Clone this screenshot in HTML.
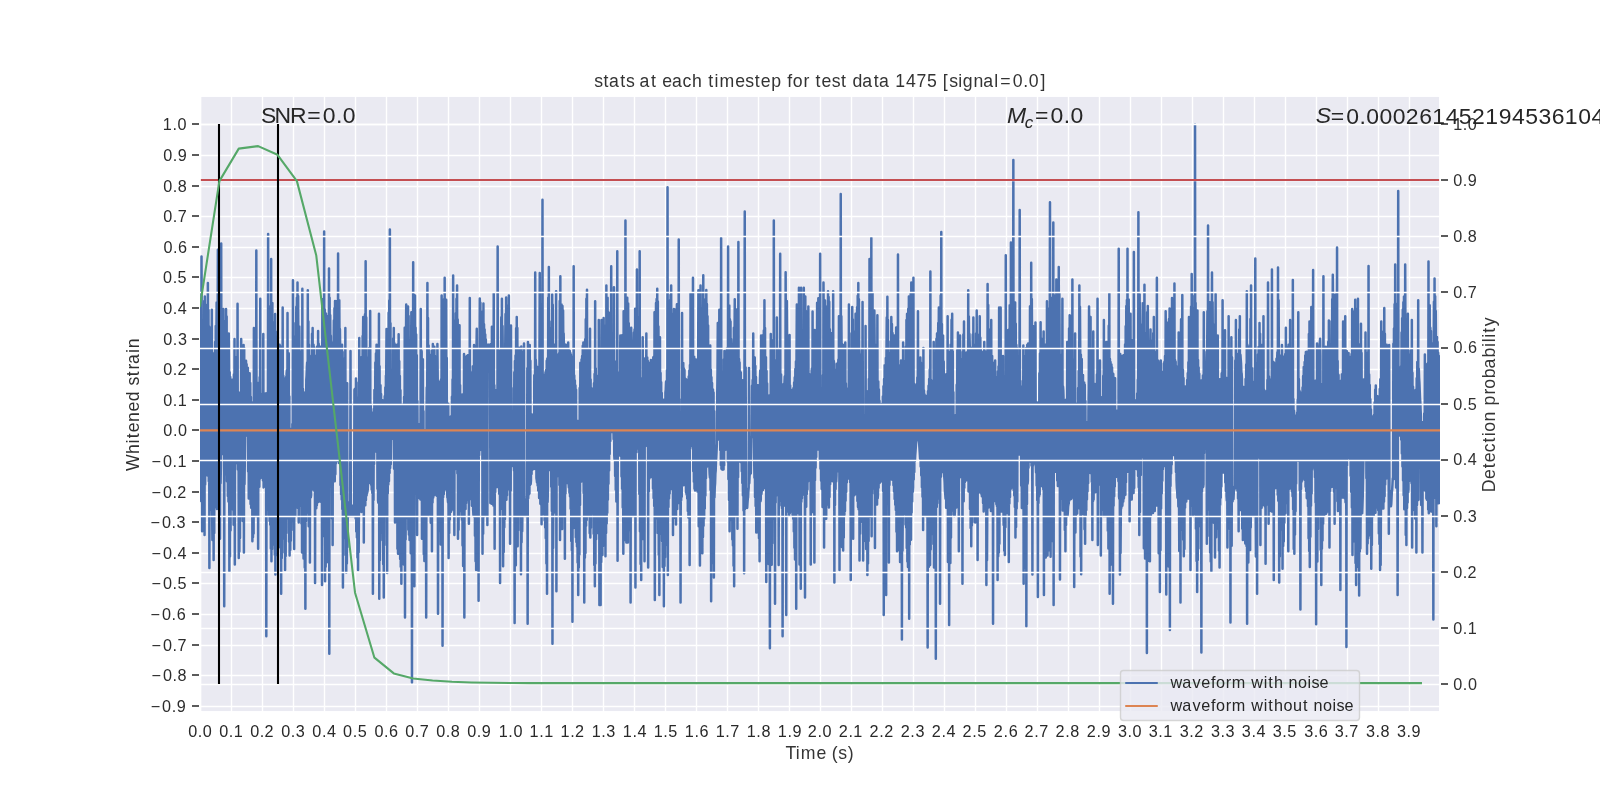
<!DOCTYPE html>
<html><head><meta charset="utf-8"><title>stats at each timestep for test data 1475</title>
<style>html,body{margin:0;padding:0;background:#fff;overflow:hidden}svg{display:block;will-change:transform}text{font-family:"Liberation Sans",sans-serif}</style>
</head><body><svg width="1600" height="800" viewBox="0 0 1600 800"><defs><clipPath id="ax"><rect x="200" y="96" width="1240" height="616"/></clipPath></defs><rect x="0" y="0" width="1600" height="800" fill="#fff"/><rect x="201.19" y="96.95" width="1237.86" height="614.10" fill="#eaeaf2"/><path d="M200 706.5H1440M200 675.5H1440M200 645.5H1440M200 614.5H1440M200 583.5H1440M200 553.5H1440M200 522.5H1440M200 492.5H1440M200 461.5H1440M200 430.5H1440M200 400.5H1440M200 369.5H1440M200 339.5H1440M200 308.5H1440M200 277.5H1440M200 247.5H1440M200 216.5H1440M200 186.5H1440M200 155.5H1440M200 124.5H1440M200.5 96V712M231.5 96V712M262.5 96V712M293.5 96V712M324.5 96V712M355.5 96V712M386.5 96V712M417.5 96V712M448.5 96V712M479.5 96V712M510.5 96V712M541.5 96V712M572.5 96V712M603.5 96V712M634.5 96V712M665.5 96V712M696.5 96V712M727.5 96V712M758.5 96V712M789.5 96V712M820.5 96V712M851.5 96V712M882.5 96V712M913.5 96V712M944.5 96V712M975.5 96V712M1006.5 96V712M1037.5 96V712M1068.5 96V712M1099.5 96V712M1130.5 96V712M1161.5 96V712M1192.5 96V712M1223.5 96V712M1254.5 96V712M1285.5 96V712M1316.5 96V712M1347.5 96V712M1378.5 96V712M1409.5 96V712" stroke="#fff" stroke-width="1.389" fill="none"/><g clip-path="url(#ax)"><path d="M200.00 497.7 200.30 304.1 200.61 496.7 200.91 335.5 201.21 501.1 201.51 256.6 201.82 359.4 202.12 531.2 202.42 355.0 202.73 512.9 203.03 353.9 203.33 510.3 203.63 355.3 203.94 505.9 204.24 300.9 204.54 535.0 204.84 296.6 205.15 484.4 205.45 304.8 205.75 474.7 206.06 323.0 206.36 474.1 206.66 329.5 206.96 475.0 207.27 314.4 207.57 475.5 207.87 283.0 208.18 473.8 208.48 310.1 208.78 481.2 209.08 326.5 209.39 568.0 209.69 341.8 209.99 500.2 210.30 348.6 210.60 505.1 210.90 344.7 211.20 327.6 211.51 509.7 211.81 309.7 212.11 511.0 212.42 540.1 212.72 353.6 213.02 534.3 213.32 360.1 213.63 560.0 213.93 353.7 214.23 533.1 214.53 352.8 214.84 506.5 215.14 342.1 215.44 506.8 215.75 326.0 216.05 498.1 216.35 345.8 216.65 302.5 216.96 509.1 217.26 332.7 217.56 355.9 217.87 249.7 218.17 351.3 218.47 323.2 218.77 332.0 219.08 300.5 219.38 534.7 219.68 314.6 219.99 538.8 220.29 336.3 220.59 483.2 220.89 465.9 221.20 243.4 221.50 452.6 221.80 452.9 222.11 350.5 222.41 453.9 222.71 327.9 223.01 452.5 223.32 309.0 223.62 452.8 223.92 321.0 224.22 606.2 224.53 328.2 224.83 472.4 225.13 347.6 225.44 473.6 225.74 473.4 226.04 309.0 226.34 474.2 226.65 316.6 226.95 481.3 227.25 360.3 227.56 349.7 227.86 496.0 228.16 358.6 228.46 501.6 228.77 333.4 229.07 366.7 229.37 571.2 229.68 372.3 229.98 556.5 230.28 377.0 230.58 530.6 230.89 380.3 231.19 508.3 231.49 381.3 231.79 507.3 232.10 379.7 232.40 507.4 232.70 381.1 233.01 509.7 233.31 379.7 233.61 524.8 233.91 374.4 234.22 504.3 234.52 339.0 234.82 564.5 235.13 363.3 235.43 461.2 235.73 358.5 236.03 462.8 236.34 357.0 236.64 363.6 236.94 372.1 237.25 463.5 237.55 303.8 237.85 469.5 238.15 392.1 238.46 392.2 238.76 558.0 239.06 394.2 239.37 551.5 239.67 394.5 239.97 538.0 240.27 392.7 240.58 509.5 240.88 513.5 241.18 339.0 241.48 512.9 241.79 372.6 242.09 516.1 242.39 362.0 242.70 520.9 243.00 355.3 243.30 506.3 243.60 345.0 243.91 552.5 244.21 348.3 244.51 484.2 244.82 459.9 245.12 436.0 245.42 435.9 245.72 435.8 246.03 360.7 246.33 435.5 246.63 364.2 246.94 435.6 247.24 370.0 247.54 435.9 247.84 367.8 248.15 471.5 248.45 375.5 248.75 498.5 249.05 373.3 249.36 498.2 249.66 373.3 249.96 498.0 250.27 383.1 250.57 504.1 250.87 397.0 251.17 507.7 251.48 402.2 251.78 503.2 252.08 403.0 252.39 541.2 252.69 404.6 252.99 537.3 253.29 404.3 253.60 533.4 253.90 328.0 254.20 516.1 254.51 381.5 254.81 516.1 255.11 369.6 255.41 516.1 255.72 370.1 256.02 516.1 256.32 250.6 256.63 512.7 256.93 382.8 257.23 509.1 257.53 382.7 257.84 383.8 258.14 548.8 258.44 384.7 258.74 385.8 259.05 385.0 259.35 486.8 259.65 377.2 259.96 478.7 260.26 298.8 260.56 477.9 260.86 393.7 261.17 476.7 261.47 403.9 261.77 477.5 262.08 404.7 262.38 474.3 262.68 404.0 262.98 480.6 263.29 334.0 263.59 487.4 263.89 486.6 264.20 397.7 264.50 485.3 264.80 394.9 265.10 395.6 265.41 393.4 265.71 393.5 266.01 393.4 266.32 636.2 266.62 395.7 266.92 497.4 267.22 394.0 267.53 504.7 267.83 501.7 268.13 234.0 268.43 509.4 268.74 364.6 269.04 515.3 269.34 354.3 269.65 521.0 269.95 318.3 270.25 524.7 270.55 306.2 270.86 548.6 271.16 259.0 271.46 561.2 271.77 335.0 272.07 549.0 272.37 303.0 272.67 544.6 272.98 329.4 273.28 330.3 273.58 535.0 273.89 329.9 274.19 541.0 274.49 322.3 274.79 554.7 275.10 314.0 275.40 574.5 275.70 331.5 276.00 545.6 276.31 344.2 276.61 555.1 276.91 346.7 277.22 548.3 277.52 507.1 277.82 336.7 278.12 518.6 278.43 354.4 278.73 526.3 279.03 352.7 279.34 531.9 279.64 344.7 279.94 547.3 280.24 346.3 280.55 535.0 280.85 350.6 281.15 593.8 281.46 353.0 281.76 558.0 282.06 355.0 282.36 552.5 282.67 307.5 282.97 538.5 283.27 375.7 283.58 380.4 283.88 516.1 284.18 516.1 284.48 537.7 284.79 378.9 285.09 570.0 285.39 379.1 285.69 556.0 286.00 377.3 286.30 533.1 286.60 373.7 286.91 370.2 287.21 516.1 287.51 313.0 287.81 503.6 288.12 353.6 288.42 518.2 288.72 353.3 289.03 541.7 289.33 396.4 289.63 555.5 289.93 428.8 290.24 550.0 290.54 428.8 290.84 540.8 291.15 428.9 291.45 530.1 291.75 428.9 292.05 517.3 292.36 424.0 292.66 510.5 292.96 280.3 293.26 493.7 293.57 338.4 293.87 500.4 294.17 549.0 294.48 355.6 294.78 492.6 295.08 336.5 295.38 516.1 295.69 322.9 295.99 493.1 296.29 306.8 296.60 506.3 296.90 297.8 297.20 501.9 297.50 282.5 297.81 507.9 298.11 296.1 298.41 354.7 298.72 522.5 299.02 350.1 299.32 326.5 299.62 360.0 299.93 353.9 300.23 352.9 300.53 351.4 300.84 505.7 301.14 352.6 301.44 523.4 301.74 363.5 302.05 552.5 302.35 288.7 302.65 534.6 302.95 388.9 303.26 523.0 303.56 558.4 303.86 394.0 304.17 544.8 304.47 393.2 304.77 567.4 305.07 392.4 305.38 608.8 305.68 392.3 305.98 520.9 306.29 380.2 306.59 375.8 306.89 367.1 307.19 362.4 307.50 511.9 307.80 290.3 308.10 512.6 308.41 321.4 308.71 526.3 309.01 344.7 309.31 505.6 309.62 357.1 309.92 562.5 310.22 364.9 310.53 497.2 310.83 497.4 311.13 495.1 311.43 355.8 311.74 489.8 312.04 333.8 312.34 489.4 312.64 328.0 312.95 488.2 313.25 488.9 313.55 344.7 313.86 486.0 314.16 347.2 314.46 491.1 314.76 355.4 315.07 583.0 315.37 359.1 315.67 500.8 315.98 357.2 316.28 508.2 316.58 357.4 316.88 505.2 317.19 346.5 317.49 498.5 317.79 500.2 318.10 331.0 318.40 502.0 318.70 343.8 319.00 495.6 319.31 347.1 319.61 495.4 319.91 348.0 320.21 496.0 320.52 346.7 320.82 501.7 321.12 353.6 321.43 501.3 321.73 348.6 322.03 585.0 322.33 299.2 322.64 511.7 322.94 330.4 323.24 535.9 323.55 324.4 323.85 520.6 324.15 231.6 324.45 516.1 324.76 309.4 325.06 581.2 325.36 316.3 325.67 566.8 325.97 313.5 326.27 556.4 326.57 319.7 326.88 562.2 327.18 336.2 327.48 559.8 327.79 316.0 328.09 543.0 328.39 340.7 328.69 533.2 329.00 268.4 329.30 653.8 329.60 297.7 329.90 354.9 330.21 315.3 330.51 361.0 330.81 335.7 331.12 362.0 331.42 356.0 331.72 369.0 332.02 518.4 332.33 357.5 332.63 545.0 332.93 353.0 333.24 342.2 333.54 355.3 333.84 320.5 334.14 364.5 334.45 308.2 334.75 481.3 335.05 301.0 335.36 474.3 335.66 321.7 335.96 463.6 336.26 330.0 336.57 459.6 336.87 301.0 337.17 459.4 337.47 321.9 337.78 460.8 338.08 253.4 338.38 461.3 338.69 305.1 338.99 463.1 339.29 300.2 339.59 352.8 339.90 328.9 340.20 349.4 340.50 484.9 340.81 344.7 341.11 494.3 341.41 353.9 341.71 499.4 342.02 344.7 342.32 508.9 342.62 352.1 342.93 587.5 343.23 358.6 343.53 360.2 343.83 504.0 344.14 367.7 344.44 375.5 344.74 376.3 345.05 538.0 345.35 328.0 345.65 554.9 345.95 386.8 346.26 572.5 346.56 383.2 346.86 563.5 347.16 383.3 347.47 547.0 347.77 513.6 348.07 507.2 348.38 511.4 348.68 516.1 348.98 509.2 349.28 509.6 349.59 502.3 349.89 513.4 350.19 516.0 350.50 351.0 350.80 510.3 351.10 508.8 351.40 516.1 351.71 516.1 352.01 510.3 352.31 514.0 352.62 505.7 352.92 515.8 353.22 516.1 353.52 516.1 353.83 508.7 354.13 516.1 354.43 390.0 354.74 389.1 355.04 514.4 355.34 390.5 355.64 518.6 355.95 378.4 356.25 531.4 356.55 382.6 356.85 537.5 357.16 397.4 357.46 557.5 357.76 401.0 358.07 570.0 358.37 402.4 358.67 552.3 358.97 506.7 359.28 338.0 359.58 507.1 359.88 402.9 360.19 507.5 360.49 389.2 360.79 507.4 361.09 371.6 361.40 512.1 361.70 357.0 362.00 504.1 362.31 505.8 362.61 336.0 362.91 351.8 363.21 317.1 363.52 348.5 363.82 542.5 364.12 344.7 364.42 339.3 364.73 356.9 365.03 314.3 365.33 505.3 365.64 261.2 365.94 499.9 366.24 317.4 366.54 495.6 366.85 492.1 367.15 493.1 367.45 491.5 367.76 489.3 368.06 483.0 368.36 357.6 368.66 482.7 368.97 348.3 369.27 479.6 369.57 365.5 369.88 482.7 370.18 311.0 370.48 482.3 370.78 404.6 371.09 484.8 371.39 413.2 371.69 489.5 372.00 412.6 372.30 492.9 372.60 412.4 372.90 593.8 373.21 413.1 373.51 500.0 373.81 409.0 374.11 464.0 374.42 390.1 374.72 451.6 375.02 451.5 375.33 362.5 375.63 451.6 375.93 353.5 376.23 450.8 376.54 344.7 376.84 450.4 377.14 352.6 377.45 488.7 377.75 344.7 378.05 500.6 378.35 502.8 378.66 498.5 378.96 313.8 379.26 598.8 379.57 366.3 379.87 560.3 380.17 513.4 380.47 385.2 380.78 494.3 381.08 394.0 381.38 511.2 381.68 400.0 381.99 532.2 382.29 400.1 382.59 540.2 382.90 403.0 383.20 564.3 383.50 400.9 383.80 597.5 384.11 402.3 384.41 545.1 384.71 396.3 385.02 516.1 385.32 387.5 385.62 508.9 385.92 375.7 386.23 375.0 386.53 329.0 386.83 361.7 387.14 573.0 387.44 351.0 387.74 493.5 388.04 339.8 388.35 484.6 388.65 312.8 388.95 481.2 389.26 300.4 389.56 473.1 389.86 229.4 390.16 468.1 390.47 323.3 390.77 464.3 391.07 440.4 391.37 438.6 391.68 438.7 391.98 438.6 392.28 438.2 392.59 438.6 392.89 438.2 393.19 338.5 393.49 438.4 393.80 328.0 394.10 468.8 394.40 343.3 394.71 356.1 395.01 522.5 395.31 344.7 395.61 505.4 395.92 362.0 396.22 511.6 396.52 347.3 396.83 499.2 397.13 344.7 397.43 548.7 397.73 511.8 398.04 553.8 398.34 515.2 398.64 334.2 398.95 531.6 399.25 361.3 399.55 543.7 399.85 376.1 400.16 559.0 400.46 390.2 400.76 566.7 401.06 404.8 401.37 583.8 401.67 406.4 401.97 558.6 402.28 406.0 402.58 550.1 402.88 405.0 403.18 555.1 403.49 404.2 403.79 564.4 404.09 396.9 404.40 561.6 404.70 327.8 405.00 617.5 405.30 362.9 405.61 539.5 405.91 352.6 406.21 304.4 406.52 347.9 406.82 319.0 407.12 353.9 407.42 330.7 407.73 517.9 408.03 306.6 408.33 529.7 408.63 315.9 408.94 534.8 409.24 344.0 409.54 540.0 409.85 348.1 410.15 524.2 410.45 360.0 410.75 553.3 411.06 361.1 411.36 312.2 411.66 351.6 411.97 682.5 412.27 355.8 412.57 545.1 412.87 498.2 413.18 262.2 413.48 501.2 413.78 294.9 414.09 357.8 414.39 586.2 414.69 356.0 414.99 295.5 415.30 476.6 415.60 327.8 415.90 474.9 416.21 334.5 416.51 473.3 416.81 355.2 417.11 535.0 417.42 400.9 417.72 498.2 418.02 424.5 418.32 495.5 418.63 424.0 418.93 496.1 419.23 424.3 419.54 424.5 419.84 498.4 420.14 424.3 420.44 499.4 420.75 309.0 421.05 496.0 421.35 350.3 421.66 351.8 421.96 538.8 422.26 366.6 422.56 508.6 422.87 359.3 423.17 508.6 423.47 411.2 423.78 554.2 424.08 430.0 424.38 561.0 424.68 430.0 424.99 545.5 425.29 430.0 425.59 523.5 425.89 430.0 426.20 617.5 426.50 412.2 426.80 387.4 427.11 496.3 427.41 283.1 427.71 502.3 428.01 317.9 428.32 514.9 428.62 345.6 428.92 364.3 429.23 499.1 429.53 506.7 429.83 366.5 430.13 506.6 430.44 362.5 430.74 522.7 431.04 354.7 431.35 509.9 431.65 350.6 431.95 551.2 432.25 350.4 432.56 502.4 432.86 344.0 433.16 497.7 433.47 492.8 433.77 358.3 434.07 495.3 434.37 346.8 434.68 490.0 434.98 356.1 435.28 491.4 435.58 367.8 435.89 494.2 436.19 356.8 436.49 495.6 436.80 366.8 437.10 495.9 437.40 344.0 437.70 377.8 438.01 613.8 438.31 384.1 438.61 511.6 438.92 509.9 439.22 382.1 439.52 521.8 439.82 381.6 440.13 530.8 440.43 381.7 440.73 544.5 441.04 379.5 441.34 526.3 441.64 295.6 441.94 506.5 442.25 359.7 442.55 645.8 442.85 353.8 443.16 497.2 443.46 328.7 443.76 494.3 444.06 299.3 444.37 487.0 444.67 277.8 444.97 488.8 445.27 304.6 445.58 306.5 445.88 488.0 446.18 299.7 446.49 490.4 446.79 358.1 447.09 491.8 447.39 497.8 447.70 497.6 448.00 502.1 448.30 403.7 448.61 558.0 448.91 417.0 449.21 532.9 449.51 416.8 449.82 519.4 450.12 417.2 450.42 504.7 450.73 417.2 451.03 511.7 451.33 416.1 451.63 509.2 451.94 396.7 452.24 506.3 452.54 379.5 452.84 502.1 453.15 275.6 453.45 507.7 453.75 510.3 454.06 344.1 454.36 535.0 454.66 340.5 454.96 468.0 455.27 320.4 455.57 469.0 455.87 313.3 456.18 468.3 456.48 298.7 456.78 469.3 457.08 285.6 457.39 473.6 457.69 319.4 457.99 538.8 458.30 361.3 458.60 529.8 458.90 355.1 459.20 517.2 459.51 325.3 459.81 506.2 460.11 385.3 460.42 495.7 460.72 394.3 461.02 394.4 461.32 510.9 461.63 394.9 461.93 519.8 462.23 395.2 462.53 545.5 462.84 394.4 463.14 565.9 463.44 394.1 463.75 541.9 464.05 354.0 464.35 617.5 464.65 365.9 464.96 501.0 465.26 361.3 465.56 509.0 465.87 356.9 466.17 502.9 466.47 359.6 466.77 356.1 467.08 499.9 467.38 358.7 467.68 491.7 467.99 355.3 468.29 490.6 468.59 362.1 468.89 523.8 469.20 371.2 469.50 495.8 469.80 298.0 470.11 495.4 470.41 375.3 470.71 498.9 471.01 376.6 471.32 498.2 471.62 373.1 471.92 505.7 472.22 372.3 472.53 500.7 472.83 366.2 473.13 509.7 473.44 515.2 473.74 510.9 474.04 345.0 474.34 516.8 474.65 356.3 474.95 535.7 475.25 351.7 475.56 561.3 475.86 349.4 476.16 570.0 476.46 350.4 476.77 328.8 477.07 502.8 477.37 534.9 477.68 355.5 477.98 557.5 478.28 355.1 478.58 600.8 478.89 349.6 479.19 455.0 479.49 360.3 479.79 298.4 480.10 354.0 480.40 302.7 480.70 449.7 481.01 317.1 481.31 449.7 481.61 323.0 481.91 450.5 482.22 316.0 482.52 553.8 482.82 311.5 483.13 533.7 483.43 303.4 483.73 516.1 484.03 324.2 484.34 505.4 484.64 329.4 484.94 516.1 485.25 334.5 485.55 504.7 485.85 339.4 486.15 514.7 486.46 344.7 486.76 506.8 487.06 350.9 487.37 525.0 487.67 344.7 487.97 344.7 488.27 346.2 488.58 344.7 488.88 344.7 489.18 344.7 489.48 352.0 489.79 348.3 490.09 344.7 490.39 503.1 490.70 351.6 491.00 501.9 491.30 343.9 491.60 503.7 491.91 326.7 492.21 502.3 492.51 355.1 492.82 502.9 493.12 358.8 493.42 505.4 493.72 293.4 494.03 504.6 494.33 385.2 494.63 548.8 494.94 391.2 495.24 492.2 495.54 390.1 495.84 390.9 496.15 487.2 496.45 393.4 496.75 486.0 497.05 390.7 497.36 485.8 497.66 246.6 497.96 487.0 498.27 375.2 498.57 487.0 498.87 360.7 499.17 493.8 499.48 352.2 499.78 350.5 500.08 583.0 500.39 350.5 500.69 504.9 500.99 361.6 501.29 317.3 501.60 508.8 501.90 298.8 502.20 499.4 502.51 325.9 502.81 354.6 503.11 566.2 503.41 359.6 503.72 552.0 504.02 366.9 504.32 527.2 504.63 360.0 504.93 518.9 505.23 349.9 505.53 313.9 505.84 499.0 506.14 297.5 506.44 499.7 506.74 329.9 507.05 495.2 507.35 335.3 507.65 489.0 507.96 357.4 508.26 305.6 508.56 489.3 508.86 295.6 509.17 486.9 509.47 365.6 509.77 372.3 510.08 543.8 510.38 383.5 510.68 490.8 510.98 325.6 511.29 465.2 511.59 387.9 511.89 464.3 512.20 464.1 512.50 465.9 512.80 466.0 513.10 464.8 513.41 462.8 513.71 464.0 514.01 470.7 514.32 372.3 514.62 623.0 514.92 360.9 515.22 563.9 515.53 355.5 515.83 565.3 516.13 328.2 516.43 534.8 516.74 316.9 517.04 541.1 517.34 328.0 517.65 546.2 517.95 349.8 518.25 530.2 518.55 351.0 518.86 513.0 519.16 347.7 519.46 516.1 519.77 506.4 520.07 509.9 520.37 493.6 520.67 356.3 520.98 574.2 521.28 346.6 521.58 542.3 521.89 352.0 522.19 531.2 522.49 506.0 522.79 506.4 523.10 506.7 523.40 508.0 523.70 514.6 524.00 343.4 524.31 496.9 524.61 499.6 524.91 516.1 525.22 515.5 525.52 504.4 525.82 505.9 526.12 512.3 526.43 510.0 526.73 510.4 527.03 508.2 527.34 368.3 527.64 623.8 527.94 342.0 528.24 498.3 528.55 354.1 528.85 494.4 529.15 349.7 529.46 493.5 529.76 344.9 530.06 485.1 530.36 360.8 530.67 484.2 530.97 480.4 531.27 414.3 531.58 474.1 531.88 415.0 532.18 469.9 532.48 414.8 532.79 467.2 533.09 414.9 533.39 467.0 533.69 415.5 534.00 468.9 534.30 375.3 534.60 466.5 534.91 467.2 535.21 272.5 535.51 468.7 535.81 359.7 536.12 366.8 536.42 478.1 536.72 479.9 537.03 482.6 537.33 366.9 537.63 485.5 537.93 367.6 538.24 490.6 538.54 366.9 538.84 369.5 539.15 498.0 539.45 368.1 539.75 273.1 540.05 358.5 540.36 503.7 540.66 355.4 540.96 504.6 541.26 353.7 541.57 524.3 541.87 363.3 542.17 514.6 542.48 199.7 542.78 511.3 543.08 374.8 543.38 377.1 543.69 375.5 543.99 503.2 544.29 376.0 544.60 520.3 544.90 374.7 545.20 527.5 545.50 372.3 545.81 538.2 546.11 370.1 546.41 563.6 546.72 360.7 547.02 593.8 547.32 358.6 547.62 502.0 547.93 486.9 548.23 297.7 548.53 469.5 548.84 266.9 549.14 466.4 549.44 466.1 549.74 351.1 550.05 470.0 550.35 346.3 550.65 466.6 550.95 328.0 551.26 486.8 551.56 321.5 551.86 511.1 552.17 294.4 552.47 643.8 552.77 304.8 553.07 548.0 553.38 500.6 553.68 358.1 553.98 512.8 554.29 344.7 554.59 500.7 554.89 353.6 555.19 495.8 555.50 356.2 555.80 484.2 556.10 291.2 556.41 591.2 556.71 354.8 557.01 474.3 557.31 354.5 557.62 472.4 557.92 356.8 558.22 473.4 558.53 359.9 558.83 476.6 559.13 353.2 559.43 485.1 559.74 301.1 560.04 540.0 560.34 276.2 560.64 504.8 560.95 311.3 561.25 335.5 561.55 304.4 561.86 330.3 562.16 528.9 562.46 306.0 562.76 516.1 563.07 310.5 563.37 349.2 563.67 333.5 563.98 352.3 564.28 502.7 564.58 344.7 564.88 558.8 565.19 344.7 565.49 493.5 565.79 344.7 566.10 482.1 566.40 348.6 566.70 483.0 567.00 344.7 567.31 482.1 567.61 344.7 567.91 483.0 568.21 342.5 568.52 482.2 568.82 487.4 569.12 350.3 569.43 492.8 569.73 350.8 570.03 496.6 570.33 353.0 570.64 508.8 570.94 354.7 571.24 541.1 571.55 360.2 571.85 550.2 572.15 357.3 572.45 621.8 572.76 358.2 573.06 528.5 573.36 503.3 573.67 266.2 573.97 515.2 574.27 375.5 574.57 516.4 574.88 380.5 575.18 527.8 575.48 385.5 575.79 537.2 576.09 389.7 576.39 542.0 576.69 421.0 577.00 546.4 577.30 421.3 577.60 562.6 577.90 421.1 578.21 595.0 578.51 421.2 578.81 567.6 579.12 421.2 579.42 554.6 579.72 388.0 580.02 504.9 580.33 362.8 580.63 482.1 580.93 371.3 581.24 480.8 581.54 359.5 581.84 479.3 582.14 356.0 582.45 481.3 582.75 345.7 583.05 480.8 583.36 342.5 583.66 493.0 583.96 357.8 584.26 602.5 584.57 350.8 584.87 557.7 585.17 339.2 585.47 552.9 585.78 319.2 586.08 525.7 586.38 298.8 586.69 520.1 586.99 289.7 587.29 514.3 587.59 353.5 587.90 502.0 588.20 361.4 588.50 516.1 588.81 349.3 589.11 507.0 589.41 358.9 589.71 533.3 590.02 328.8 590.32 537.5 590.62 379.4 590.93 527.7 591.23 390.4 591.53 389.5 591.83 388.4 592.14 391.8 592.44 391.1 592.74 391.0 593.05 513.4 593.35 392.1 593.65 533.8 593.95 383.2 594.26 564.9 594.56 373.9 594.86 586.2 595.16 301.2 595.47 563.4 595.77 368.6 596.07 539.2 596.38 375.8 596.68 502.5 596.98 377.0 597.28 516.1 597.59 377.2 597.89 516.1 598.19 533.1 598.50 516.1 598.80 320.0 599.10 373.5 599.40 605.0 599.71 363.1 600.01 566.3 600.31 360.8 600.62 605.0 600.92 351.2 601.22 561.9 601.52 320.0 601.83 539.8 602.13 337.0 602.43 554.9 602.74 344.7 603.04 545.9 603.34 504.9 603.64 318.0 603.95 516.1 604.25 325.4 604.55 350.3 604.85 531.8 605.16 355.9 605.46 556.2 605.76 360.9 606.07 533.0 606.37 285.6 606.67 523.5 606.97 329.3 607.28 512.7 607.58 297.7 607.88 499.7 608.19 312.2 608.49 483.7 608.79 320.0 609.09 470.5 609.40 313.1 609.70 454.1 610.00 335.3 610.31 440.9 610.61 319.1 610.91 431.9 611.21 266.2 611.52 431.9 611.82 355.7 612.12 378.2 612.42 431.9 612.73 420.9 613.03 431.8 613.33 421.6 613.64 439.3 613.94 287.2 614.24 455.1 614.54 459.6 614.85 421.1 615.15 476.0 615.45 408.7 615.76 489.8 616.06 361.5 616.36 501.6 616.66 368.4 616.97 484.1 617.27 251.2 617.57 560.8 617.88 373.8 618.18 453.7 618.48 372.5 618.78 455.3 619.09 374.9 619.39 455.0 619.69 372.7 620.00 455.6 620.30 335.6 620.60 455.9 620.90 358.7 621.21 359.6 621.51 476.5 621.81 354.3 622.11 488.7 622.42 335.0 622.72 507.6 623.02 335.4 623.33 553.8 623.63 311.2 623.93 540.5 624.23 314.8 624.54 515.7 624.84 327.9 625.14 525.2 625.45 220.6 625.75 535.6 626.05 302.1 626.35 542.5 626.66 310.9 626.96 523.9 627.26 297.8 627.57 509.3 627.87 542.6 628.17 303.4 628.47 515.0 628.78 323.3 629.08 516.1 629.38 348.2 629.68 505.1 629.99 530.0 630.29 354.7 630.59 602.5 630.90 353.0 631.20 327.8 631.50 504.6 631.80 344.9 632.11 512.5 632.41 508.1 632.71 505.7 633.02 516.1 633.32 348.5 633.62 345.0 633.92 332.6 634.23 508.3 634.53 329.5 634.83 510.0 635.14 308.8 635.44 587.5 635.74 328.8 636.04 452.5 636.35 335.6 636.65 448.6 636.95 269.4 637.26 448.1 637.56 316.9 637.86 348.1 638.16 447.3 638.47 357.8 638.77 452.6 639.07 364.0 639.37 493.9 639.68 251.2 639.98 531.6 640.28 382.7 640.59 564.1 640.89 378.3 641.19 580.0 641.49 380.5 641.80 522.8 642.10 379.9 642.40 539.0 642.71 337.2 643.01 515.9 643.31 527.7 643.61 366.4 643.92 510.3 644.22 361.7 644.52 561.2 644.83 358.5 645.13 445.2 645.43 376.9 645.73 445.9 646.04 445.0 646.34 333.4 646.64 444.6 646.95 444.5 647.25 357.5 647.55 445.6 647.85 360.9 648.16 567.5 648.46 363.8 648.76 491.4 649.06 362.8 649.37 478.4 649.67 364.5 649.97 474.6 650.28 363.7 650.58 473.9 650.88 360.0 651.18 476.9 651.49 362.0 651.79 474.0 652.09 361.4 652.40 475.9 652.70 361.6 653.00 488.5 653.30 357.3 653.61 498.1 653.91 356.8 654.21 505.9 654.52 312.2 654.82 600.0 655.12 338.9 655.42 533.3 655.73 344.9 656.03 302.9 656.33 511.5 656.63 298.9 656.94 514.9 657.24 288.7 657.54 518.3 657.85 301.4 658.15 533.3 658.45 326.5 658.75 554.8 659.06 353.3 659.36 595.0 659.66 359.4 659.97 337.2 660.27 501.8 660.57 373.1 660.87 516.1 661.18 382.3 661.48 533.8 661.78 393.1 662.09 541.0 662.39 401.3 662.69 567.1 662.99 402.1 663.30 565.1 663.60 399.7 663.90 606.2 664.21 401.3 664.51 566.1 664.81 401.6 665.11 557.3 665.42 392.4 665.72 390.0 666.02 381.9 666.32 381.1 666.63 521.0 666.93 370.4 667.23 544.8 667.54 187.2 667.84 575.0 668.14 349.2 668.44 507.0 668.75 345.3 669.05 498.4 669.35 304.6 669.66 493.5 669.96 300.2 670.26 487.2 670.56 295.0 670.87 489.0 671.17 285.6 671.47 487.0 671.78 313.8 672.08 348.1 672.38 323.7 672.68 360.1 672.99 535.0 673.29 344.7 673.59 494.5 673.89 309.0 674.20 503.3 674.50 348.5 674.80 346.4 675.11 339.4 675.41 518.3 675.71 315.4 676.01 524.5 676.32 309.1 676.62 320.0 676.92 304.3 677.23 509.0 677.53 329.2 677.83 500.7 678.13 340.2 678.44 493.7 678.74 239.4 679.04 503.1 679.35 399.2 679.65 502.1 679.95 430.0 680.25 430.0 680.56 602.5 680.86 430.0 681.16 500.2 681.47 430.0 681.77 496.7 682.07 313.1 682.37 485.7 682.68 395.7 682.98 484.8 683.28 363.0 683.58 482.1 683.89 368.5 684.19 484.9 684.49 370.0 684.80 481.1 685.10 378.4 685.40 484.5 685.70 383.2 686.01 492.6 686.31 379.6 686.61 494.5 686.92 380.5 687.22 498.4 687.52 381.7 687.82 511.0 688.13 382.0 688.43 517.6 688.73 376.5 689.04 507.7 689.34 370.5 689.64 565.0 689.94 364.9 690.25 448.8 690.55 293.4 690.85 444.9 691.16 353.4 691.46 445.4 691.76 352.6 692.06 446.0 692.37 350.3 692.67 444.8 692.97 277.8 693.27 471.2 693.58 356.8 693.88 481.8 694.18 356.8 694.49 488.7 694.79 359.2 695.09 490.4 695.39 359.3 695.70 488.8 696.00 363.2 696.30 489.0 696.61 360.0 696.91 489.6 697.21 365.0 697.51 491.4 697.82 362.3 698.12 362.0 698.42 290.3 698.73 526.2 699.03 350.3 699.33 348.8 699.63 504.7 699.94 565.5 700.24 346.6 700.54 285.6 700.84 326.9 701.15 549.1 701.45 320.6 701.75 537.2 702.06 314.9 702.36 553.2 702.66 308.2 702.96 537.0 703.27 275.3 703.57 525.8 703.87 305.2 704.18 518.6 704.48 308.7 704.78 508.6 705.08 304.2 705.39 495.5 705.69 299.2 705.99 478.3 706.30 290.0 706.60 467.2 706.90 303.9 707.20 464.9 707.51 316.2 707.81 466.1 708.11 325.6 708.42 465.9 708.72 465.2 709.02 465.4 709.32 465.3 709.63 474.1 709.93 477.7 710.23 345.6 710.53 489.9 710.84 369.7 711.14 601.2 711.44 377.2 711.75 563.1 712.05 382.9 712.35 535.7 712.65 538.7 712.96 389.5 713.26 562.2 713.56 392.6 713.87 577.5 714.17 411.2 714.47 497.4 714.77 486.8 715.08 483.6 715.38 474.0 715.68 470.7 715.99 461.4 716.29 457.2 716.59 450.5 716.89 443.5 717.20 397.8 717.50 373.0 717.80 323.1 718.11 360.0 718.41 439.1 718.71 352.4 719.01 439.6 719.32 309.7 719.62 439.8 719.92 317.5 720.22 450.1 720.53 350.9 720.83 464.9 721.13 238.1 721.44 468.8 721.74 467.3 722.04 468.8 722.34 469.6 722.65 468.6 722.95 467.0 723.25 469.0 723.56 469.5 723.86 359.5 724.16 465.2 724.46 351.0 724.77 449.1 725.07 355.8 725.37 449.8 725.68 353.3 725.98 449.3 726.28 357.1 726.58 448.9 726.89 348.5 727.19 449.4 727.49 351.1 727.79 461.7 728.10 246.6 728.40 479.3 728.70 333.3 729.01 500.0 729.31 305.6 729.61 531.2 729.91 319.2 730.22 517.5 730.52 321.6 730.82 508.3 731.13 339.1 731.43 345.7 731.73 520.1 732.03 363.5 732.34 539.6 732.64 361.5 732.94 545.4 733.25 344.2 733.55 565.8 733.85 327.8 734.15 586.2 734.46 351.1 734.76 299.2 735.06 362.4 735.37 345.5 735.67 505.0 735.97 355.8 736.27 516.1 736.58 337.8 736.88 505.3 737.18 309.3 737.48 528.8 737.79 340.0 738.09 477.3 738.39 241.9 738.70 460.9 739.00 359.0 739.30 461.3 739.60 362.4 739.91 461.4 740.21 371.5 740.51 461.8 740.82 372.5 741.12 462.5 741.42 380.1 741.72 471.3 742.03 381.5 742.33 483.1 742.63 380.9 742.94 495.6 743.24 381.9 743.54 510.4 743.84 380.0 744.15 573.2 744.45 380.7 744.75 211.6 745.05 509.0 745.36 498.7 745.66 367.5 745.96 496.4 746.27 492.7 746.57 488.7 746.87 495.4 747.17 507.9 747.48 502.9 747.78 498.8 748.08 497.2 748.39 490.8 748.69 487.6 748.99 368.0 749.29 483.1 749.60 475.2 749.90 474.7 750.20 469.9 750.51 472.5 750.81 473.4 751.11 452.8 751.41 436.9 751.72 436.4 752.02 385.8 752.32 436.5 752.63 380.0 752.93 436.9 753.23 333.4 753.53 436.6 753.84 358.2 754.14 455.7 754.44 477.7 754.74 357.6 755.05 497.1 755.35 366.0 755.65 506.0 755.96 377.0 756.26 532.5 756.56 385.0 756.86 388.3 757.17 385.7 757.47 386.8 757.77 387.4 758.08 385.2 758.38 532.7 758.68 386.0 758.98 538.3 759.29 386.1 759.59 561.2 759.89 379.6 760.20 370.5 760.50 501.3 760.80 499.5 761.10 335.6 761.41 494.2 761.71 490.9 762.01 354.8 762.32 484.8 762.62 343.3 762.92 489.9 763.22 334.9 763.53 487.6 763.83 330.4 764.13 486.6 764.43 300.3 764.74 486.2 765.04 327.9 765.34 488.3 765.65 356.9 765.95 357.3 766.25 582.0 766.55 371.0 766.86 507.8 767.16 383.4 767.46 552.5 767.77 395.8 768.07 544.4 768.37 396.7 768.67 564.1 768.98 397.6 769.28 551.3 769.58 395.3 769.89 648.2 770.19 395.7 770.49 533.2 770.79 334.0 771.10 523.0 771.40 375.1 771.70 564.8 772.00 357.1 772.31 543.3 772.61 355.2 772.91 518.5 773.22 340.0 773.52 514.4 773.82 220.6 774.12 507.9 774.43 508.9 774.73 361.1 775.03 603.8 775.34 360.5 775.64 502.6 775.94 360.3 776.24 495.7 776.55 493.5 776.85 317.5 777.15 490.8 777.46 492.6 777.76 364.5 778.06 487.2 778.36 349.6 778.67 565.0 778.97 354.4 779.27 487.7 779.58 490.3 779.88 495.0 780.18 253.8 780.48 499.1 780.79 500.7 781.09 374.4 781.39 505.4 781.69 384.4 782.00 508.3 782.30 385.8 782.60 636.2 782.91 384.4 783.21 504.4 783.51 384.9 783.81 505.7 784.12 386.6 784.42 383.9 784.72 376.8 785.03 376.0 785.33 495.2 785.63 272.2 785.93 356.3 786.24 615.0 786.54 371.4 786.84 300.9 787.15 348.6 787.45 511.4 787.75 496.6 788.05 362.1 788.36 496.0 788.66 367.4 788.96 371.5 789.26 515.1 789.57 335.0 789.87 512.9 790.17 385.4 790.48 505.9 790.78 392.7 791.08 511.5 791.38 392.8 791.69 510.4 791.99 390.1 792.29 507.9 792.60 515.1 792.90 392.4 793.20 518.7 793.50 388.1 793.81 531.6 794.11 382.5 794.41 547.8 794.72 377.6 795.02 559.4 795.32 369.0 795.62 548.0 795.93 361.4 796.23 608.8 796.53 353.3 796.84 304.4 797.14 510.9 797.44 502.8 797.74 351.6 798.05 501.6 798.35 361.7 798.65 513.2 798.95 287.8 799.26 375.8 799.56 564.5 799.86 376.1 800.17 513.0 800.47 381.0 800.77 588.8 801.07 287.8 801.38 501.8 801.68 379.7 801.98 498.3 802.29 379.0 802.59 491.0 802.89 374.0 803.19 492.8 803.50 365.7 803.80 287.8 804.10 354.6 804.41 495.1 804.71 324.4 805.01 597.5 805.31 296.6 805.62 500.9 805.92 311.0 806.22 506.7 806.53 351.3 806.83 494.0 807.13 360.9 807.43 489.6 807.74 361.6 808.04 481.6 808.34 306.6 808.64 479.2 808.95 377.5 809.25 376.2 809.55 377.2 809.86 374.4 810.16 480.5 810.46 374.5 810.76 564.5 811.07 376.3 811.37 491.3 811.67 370.7 811.98 368.5 812.28 499.2 812.58 311.6 812.88 508.0 813.19 512.3 813.49 355.0 813.79 502.8 814.10 342.2 814.40 562.5 814.70 330.0 815.00 480.2 815.31 350.4 815.61 467.8 815.91 340.0 816.21 456.9 816.52 332.9 816.82 449.5 817.12 302.8 817.43 449.0 817.73 328.3 818.03 449.6 818.33 298.3 818.64 448.6 818.94 362.8 819.24 448.7 819.55 399.8 819.85 459.3 820.15 253.8 820.45 468.8 820.76 411.3 821.06 480.7 821.36 410.8 821.67 489.1 821.97 411.8 822.27 411.8 822.57 507.1 822.88 375.2 823.18 507.2 823.48 282.5 823.79 335.2 824.09 547.6 824.39 318.1 824.69 505.5 825.00 300.6 825.30 511.7 825.60 327.3 825.90 356.5 826.21 518.8 826.51 345.5 826.81 321.7 827.12 356.7 827.42 306.3 827.72 496.6 828.02 291.2 828.33 504.5 828.63 297.1 828.93 507.4 829.24 301.8 829.54 496.9 829.84 329.3 830.14 484.3 830.45 361.0 830.75 479.0 831.05 367.3 831.36 347.3 831.66 480.9 831.96 333.1 832.26 478.6 832.57 350.2 832.87 481.3 833.17 291.2 833.47 481.3 833.78 360.8 834.08 363.7 834.38 582.5 834.69 369.8 834.99 505.1 835.29 371.7 835.59 488.9 835.90 370.2 836.20 481.5 836.50 475.6 836.81 363.8 837.11 370.8 837.41 469.2 837.71 369.3 838.02 471.2 838.32 359.7 838.62 468.4 838.93 316.2 839.23 364.4 839.53 570.0 839.83 346.7 840.14 483.8 840.44 490.3 840.74 194.0 841.05 504.9 841.35 316.3 841.65 354.0 841.95 546.9 842.26 348.6 842.56 534.9 842.86 344.7 843.16 550.4 843.47 350.6 843.77 537.5 844.07 359.9 844.38 515.0 844.68 361.8 844.98 511.1 845.28 342.5 845.59 500.7 845.89 383.5 846.19 492.1 846.50 388.6 846.80 482.5 847.10 388.9 847.40 475.0 847.71 391.3 848.01 478.6 848.31 391.2 848.62 475.0 848.92 304.4 849.22 477.8 849.52 478.1 849.83 375.1 850.13 482.2 850.43 365.3 850.74 580.0 851.04 350.6 851.34 502.4 851.64 333.2 851.95 506.9 852.25 306.9 852.55 501.9 852.85 319.5 853.16 538.8 853.46 344.7 853.76 495.2 854.07 344.7 854.37 495.3 854.67 344.7 854.97 331.4 855.28 493.5 855.58 313.8 855.88 492.1 856.19 490.5 856.49 337.1 856.79 494.4 857.09 307.3 857.40 500.9 857.70 295.7 858.00 506.9 858.31 283.1 858.61 509.3 858.91 299.2 859.21 360.1 859.52 560.5 859.82 354.4 860.12 533.7 860.42 361.9 860.73 522.0 861.03 356.9 861.33 511.6 861.64 359.5 861.94 349.2 862.24 501.8 862.54 301.9 862.85 398.2 863.15 560.5 863.45 415.3 863.76 541.3 864.06 415.9 864.36 520.9 864.66 416.1 864.97 415.5 865.27 514.4 865.57 326.0 865.88 509.7 866.18 549.1 866.48 391.0 866.78 543.1 867.09 394.0 867.39 575.0 867.69 392.5 868.00 563.6 868.30 393.4 868.60 541.0 868.90 379.1 869.21 517.1 869.51 259.0 869.81 499.6 870.11 356.8 870.42 505.5 870.72 311.4 871.02 496.8 871.33 237.8 871.63 536.2 871.93 330.1 872.23 493.5 872.54 292.8 872.84 488.0 873.14 322.5 873.45 488.6 873.75 323.6 874.05 488.6 874.35 310.6 874.66 344.7 874.96 548.0 875.26 356.1 875.57 498.1 875.87 344.7 876.17 504.0 876.47 353.7 876.78 356.8 877.08 504.6 877.38 315.3 877.68 498.3 877.99 494.5 878.29 381.4 878.59 487.7 878.90 389.5 879.20 483.3 879.50 400.7 879.80 482.7 880.11 404.3 880.41 478.7 880.71 404.3 881.02 480.9 881.32 404.7 881.62 404.7 881.92 479.5 882.23 403.7 882.53 482.1 882.83 396.6 883.14 491.0 883.44 386.3 883.74 615.0 884.04 378.9 884.35 501.6 884.65 365.3 884.95 500.9 885.26 368.0 885.56 504.9 885.86 358.1 886.16 595.0 886.47 354.8 886.77 317.4 887.07 504.1 887.37 296.7 887.68 498.3 887.98 320.0 888.28 497.1 888.59 341.4 888.89 562.5 889.19 353.0 889.49 485.0 889.80 357.9 890.10 477.6 890.40 362.5 890.71 476.5 891.01 479.3 891.31 316.9 891.61 476.9 891.92 323.9 892.22 479.8 892.52 332.9 892.83 480.1 893.13 350.6 893.43 485.3 893.73 353.4 894.04 491.6 894.34 335.6 894.64 499.0 894.95 352.7 895.25 504.7 895.55 339.1 895.85 510.1 896.16 327.5 896.46 531.7 896.76 349.8 897.06 551.2 897.37 354.5 897.67 525.3 897.97 254.4 898.28 535.6 898.58 367.2 898.88 544.4 899.18 370.7 899.49 550.4 899.79 365.4 900.09 561.9 900.40 365.2 900.70 559.2 901.00 360.6 901.30 525.0 901.61 366.7 901.91 639.5 902.21 360.9 902.52 550.8 902.82 503.4 903.12 342.5 903.42 494.9 903.73 513.7 904.03 501.7 904.33 498.6 904.63 504.5 904.94 506.7 905.24 361.0 905.54 524.4 905.85 346.7 906.15 527.6 906.45 320.0 906.75 548.0 907.06 313.8 907.36 561.5 907.66 314.1 907.97 567.1 908.27 308.7 908.57 545.4 908.87 296.6 909.18 618.8 909.48 313.7 909.78 544.5 910.09 316.9 910.39 522.4 910.69 293.5 910.99 539.7 911.30 282.5 911.60 512.4 911.90 349.2 912.21 501.4 912.51 353.6 912.81 491.6 913.11 486.9 913.42 277.8 913.72 479.6 914.02 383.7 914.32 472.1 914.63 385.2 914.93 461.0 915.23 455.2 915.54 450.9 915.84 446.6 916.14 442.4 916.44 439.5 916.75 384.1 917.05 439.0 917.35 377.4 917.66 439.9 917.96 311.3 918.26 439.0 918.56 439.2 918.87 439.1 919.17 443.3 919.47 448.5 919.78 453.2 920.08 458.7 920.38 357.5 920.68 466.5 920.99 362.7 921.29 475.5 921.59 366.3 921.89 487.3 922.20 370.6 922.50 496.8 922.80 375.3 923.11 530.0 923.41 348.0 923.71 512.4 924.01 390.5 924.32 498.6 924.62 394.4 924.92 506.2 925.23 396.2 925.53 516.1 925.83 397.3 926.13 497.3 926.44 396.1 926.74 506.0 927.04 508.3 927.35 395.6 927.65 647.5 927.95 391.2 928.25 565.8 928.56 385.7 928.86 566.7 929.16 379.0 929.47 562.2 929.77 369.4 930.07 565.0 930.37 271.6 930.68 549.6 930.98 380.0 931.28 534.0 931.58 383.8 931.89 511.0 932.19 381.0 932.49 503.7 932.80 519.0 933.10 380.7 933.40 544.0 933.70 341.9 934.01 567.4 934.31 376.2 934.61 549.7 934.92 366.8 935.22 523.2 935.52 353.1 935.82 658.8 936.13 360.8 936.43 338.7 936.73 506.9 937.04 333.4 937.34 498.5 937.64 332.9 937.94 357.0 938.25 322.9 938.55 362.9 938.85 307.5 939.16 358.0 939.46 503.2 939.76 356.6 940.06 603.8 940.37 350.2 940.67 295.4 940.97 476.7 941.27 231.9 941.58 471.9 941.88 323.9 942.18 469.8 942.49 350.4 942.79 471.9 943.09 335.6 943.39 471.6 943.70 361.6 944.00 471.8 944.30 477.3 944.61 481.7 944.91 491.4 945.21 493.5 945.51 498.8 945.82 374.8 946.12 507.8 946.42 374.1 946.73 503.2 947.03 379.2 947.33 508.3 947.63 316.2 947.94 562.1 948.24 366.9 948.54 533.5 948.84 356.0 949.15 625.0 949.45 351.9 949.75 561.8 950.06 362.0 950.36 563.1 950.66 344.7 950.96 537.7 951.27 365.5 951.57 319.7 951.87 498.7 952.18 313.8 952.48 500.9 952.78 351.4 953.08 510.6 953.39 392.3 953.69 514.8 953.99 501.8 954.30 505.0 954.60 516.1 954.90 511.8 955.20 502.0 955.51 499.0 955.81 415.1 956.11 507.1 956.42 507.5 956.72 384.7 957.02 505.6 957.32 349.9 957.63 495.2 957.93 332.5 958.23 490.1 958.53 354.8 958.84 551.2 959.14 358.2 959.44 475.8 959.75 473.8 960.05 335.6 960.35 475.7 960.65 477.0 960.96 364.8 961.26 472.9 961.56 371.5 961.87 477.8 962.17 359.0 962.47 583.8 962.77 352.1 963.08 500.1 963.38 334.5 963.68 501.3 963.99 321.6 964.29 487.8 964.59 364.3 964.89 481.9 965.20 355.1 965.50 478.3 965.80 363.0 966.11 478.1 966.41 352.6 966.71 480.3 967.01 357.4 967.32 476.2 967.62 354.5 967.92 480.4 968.22 290.3 968.53 491.4 968.83 316.5 969.13 353.4 969.44 333.9 969.74 345.0 970.04 508.9 970.34 348.1 970.65 528.1 970.95 357.5 971.25 546.2 971.56 354.0 971.86 525.6 972.16 347.5 972.46 522.2 972.77 334.5 973.07 515.1 973.37 317.5 973.68 512.7 973.98 344.7 974.28 351.8 974.58 352.1 974.89 353.2 975.19 522.4 975.49 347.9 975.79 505.5 976.10 333.4 976.40 509.5 976.70 310.6 977.01 502.5 977.31 334.6 977.61 560.0 977.91 349.9 978.22 488.7 978.52 339.5 978.82 489.5 979.13 335.4 979.43 492.2 979.73 316.2 980.03 491.6 980.34 337.7 980.64 492.7 980.94 350.1 981.25 493.8 981.55 359.9 981.85 496.2 982.15 364.7 982.46 488.4 982.76 362.7 983.06 503.0 983.37 351.7 983.67 511.4 983.97 501.4 984.27 341.9 984.58 502.2 984.88 351.2 985.18 500.4 985.48 351.6 985.79 508.3 986.09 367.3 986.39 585.0 986.70 357.6 987.00 560.2 987.30 506.9 987.60 284.0 987.91 498.2 988.21 304.9 988.51 507.4 988.82 336.2 989.12 500.4 989.42 344.7 989.72 493.2 990.03 343.5 990.33 507.0 990.63 329.2 990.94 511.0 991.24 320.0 991.54 509.0 991.84 502.5 992.15 355.9 992.45 498.1 992.75 362.4 993.05 623.8 993.36 367.0 993.66 499.2 993.96 373.4 994.27 501.0 994.57 378.5 994.87 499.5 995.17 360.6 995.48 501.1 995.78 499.7 996.08 379.8 996.39 504.2 996.69 377.1 996.99 506.2 997.29 379.1 997.60 580.0 997.90 371.5 998.20 556.2 998.51 366.4 998.81 552.4 999.11 307.5 999.41 543.8 999.72 358.0 1000.02 354.5 1000.32 510.6 1000.63 307.5 1000.93 500.5 1001.23 496.8 1001.53 511.5 1001.84 501.9 1002.14 497.4 1002.44 510.3 1002.74 502.5 1003.05 356.0 1003.35 501.3 1003.65 525.1 1003.96 380.5 1004.26 550.8 1004.56 381.2 1004.86 555.0 1005.17 376.3 1005.47 527.3 1005.77 255.3 1006.08 503.9 1006.38 360.0 1006.68 502.7 1006.98 354.5 1007.29 513.1 1007.59 341.2 1007.89 502.9 1008.20 330.0 1008.50 354.9 1008.80 562.0 1009.10 334.2 1009.41 503.6 1009.71 305.2 1010.01 496.9 1010.32 308.5 1010.62 489.3 1010.92 242.5 1011.22 488.0 1011.53 329.8 1011.83 487.0 1012.13 294.7 1012.43 485.1 1012.74 333.6 1013.04 486.5 1013.34 160.0 1013.65 490.0 1013.95 323.2 1014.25 495.4 1014.55 312.6 1014.86 507.0 1015.16 302.6 1015.46 537.5 1015.77 323.7 1016.07 527.0 1016.37 345.0 1016.67 508.5 1016.98 348.3 1017.28 501.6 1017.58 358.3 1017.89 356.6 1018.19 362.1 1018.49 367.9 1018.79 372.7 1019.10 376.6 1019.40 454.6 1019.70 210.0 1020.00 453.8 1020.31 387.9 1020.61 454.2 1020.91 386.6 1021.22 485.7 1021.52 390.2 1021.82 508.0 1022.12 387.3 1022.43 504.0 1022.73 381.0 1023.03 507.9 1023.34 345.6 1023.64 583.8 1023.94 360.9 1024.24 511.1 1024.55 355.9 1024.85 547.1 1025.15 567.5 1025.46 357.7 1025.76 522.7 1026.06 348.3 1026.36 626.2 1026.67 352.9 1026.97 504.0 1027.27 344.7 1027.58 483.9 1027.88 480.7 1028.18 343.4 1028.48 467.7 1028.79 356.8 1029.09 461.0 1029.39 355.1 1029.69 459.8 1030.00 306.2 1030.30 459.8 1030.60 337.9 1030.91 461.9 1031.21 262.8 1031.51 465.6 1031.81 299.1 1032.12 347.0 1032.42 574.5 1032.72 345.1 1033.03 465.7 1033.33 326.2 1033.63 462.0 1033.93 343.9 1034.24 463.6 1034.54 350.4 1034.84 327.5 1035.15 462.2 1035.45 322.5 1035.75 462.8 1036.05 472.5 1036.36 402.3 1036.66 485.5 1036.96 403.7 1037.26 500.2 1037.57 402.8 1037.87 597.0 1038.17 404.4 1038.48 503.1 1038.78 402.4 1039.08 496.4 1039.38 373.2 1039.69 494.4 1039.99 353.6 1040.29 482.9 1040.60 322.2 1040.90 482.0 1041.20 338.4 1041.50 481.9 1041.81 347.5 1042.11 486.2 1042.41 344.7 1042.72 485.9 1043.02 352.8 1043.32 489.5 1043.62 331.6 1043.93 595.0 1044.23 353.6 1044.53 499.6 1044.84 351.6 1045.14 510.4 1045.44 344.7 1045.74 557.6 1046.05 359.8 1046.35 546.6 1046.65 505.3 1046.95 301.2 1047.26 357.3 1047.56 555.5 1047.86 355.1 1048.17 550.7 1048.47 358.0 1048.77 308.4 1049.07 344.7 1049.38 330.7 1049.68 367.6 1049.98 202.2 1050.29 346.9 1050.59 556.7 1050.89 334.4 1051.19 541.4 1051.50 314.3 1051.80 513.0 1052.10 297.8 1052.41 500.5 1052.71 325.3 1053.01 489.5 1053.31 222.5 1053.62 605.0 1053.92 295.3 1054.22 468.4 1054.53 327.6 1054.83 470.9 1055.13 295.9 1055.43 471.8 1055.74 310.5 1056.04 470.5 1056.34 279.4 1056.64 471.1 1056.95 327.3 1057.25 480.4 1057.55 312.3 1057.86 486.0 1058.16 300.3 1058.46 485.9 1058.76 266.9 1059.07 485.3 1059.37 293.4 1059.67 360.7 1059.98 579.5 1060.28 358.0 1060.58 492.7 1060.88 366.0 1061.19 498.7 1061.49 355.5 1061.79 354.7 1062.10 497.1 1062.40 298.8 1062.70 510.4 1063.00 386.6 1063.31 390.5 1063.61 400.9 1063.91 402.0 1064.21 400.1 1064.52 401.3 1064.82 530.1 1065.12 401.0 1065.43 551.2 1065.73 401.7 1066.03 525.1 1066.33 399.5 1066.64 514.6 1066.94 512.6 1067.24 341.9 1067.55 516.1 1067.85 512.1 1068.15 506.6 1068.45 504.5 1068.76 503.5 1069.06 328.4 1069.36 500.4 1069.67 315.3 1069.97 494.6 1070.27 334.1 1070.57 498.0 1070.88 340.8 1071.18 499.1 1071.48 496.8 1071.79 316.1 1072.09 497.6 1072.39 279.4 1072.69 495.1 1073.00 359.4 1073.30 371.7 1073.60 380.6 1073.90 385.9 1074.21 587.0 1074.51 404.5 1074.81 512.8 1075.12 333.4 1075.42 532.6 1075.72 409.7 1076.02 514.9 1076.33 409.8 1076.63 504.0 1076.93 409.5 1077.24 513.6 1077.54 403.5 1077.84 499.5 1078.14 387.9 1078.45 501.8 1078.75 370.9 1079.05 507.6 1079.36 285.6 1079.66 508.5 1079.96 306.8 1080.26 353.2 1080.57 556.5 1080.87 354.8 1081.17 574.2 1081.47 361.1 1081.78 359.0 1082.08 513.8 1082.38 500.3 1082.69 513.7 1082.99 375.0 1083.29 506.8 1083.59 382.4 1083.90 509.1 1084.20 382.6 1084.50 529.2 1084.81 384.8 1085.11 543.8 1085.41 401.1 1085.71 516.0 1086.02 422.1 1086.32 510.0 1086.62 422.5 1086.93 499.5 1087.23 422.4 1087.53 491.5 1087.83 422.1 1088.14 483.3 1088.44 411.1 1088.74 389.1 1089.05 306.6 1089.35 350.5 1089.65 472.8 1089.95 472.9 1090.26 472.3 1090.56 317.0 1090.86 470.9 1091.16 470.0 1091.47 348.8 1091.77 481.7 1092.07 360.4 1092.38 540.0 1092.68 366.5 1092.98 501.3 1093.28 331.6 1093.59 499.5 1093.89 386.3 1094.19 491.5 1094.50 383.7 1094.80 488.6 1095.10 387.4 1095.40 492.3 1095.71 385.4 1096.01 487.4 1096.31 384.9 1096.62 487.1 1096.92 374.4 1097.22 488.1 1097.52 298.8 1097.83 545.0 1098.13 364.7 1098.43 480.5 1098.74 378.0 1099.04 484.6 1099.34 391.8 1099.64 484.5 1099.95 360.6 1100.25 483.1 1100.55 398.0 1100.85 555.5 1101.16 398.2 1101.46 495.0 1101.76 397.7 1102.07 500.6 1102.37 396.9 1102.67 509.7 1102.97 505.2 1103.28 375.7 1103.58 516.1 1103.88 320.0 1104.19 516.1 1104.49 348.7 1104.79 512.3 1105.09 515.0 1105.40 513.1 1105.70 347.2 1106.00 516.1 1106.31 341.9 1106.61 505.1 1106.91 346.8 1107.21 516.1 1107.52 349.4 1107.82 530.8 1108.12 341.7 1108.42 548.5 1108.73 325.8 1109.03 544.2 1109.33 293.4 1109.64 593.8 1109.94 358.9 1110.24 554.6 1110.54 361.9 1110.85 564.4 1111.15 556.5 1111.45 364.5 1111.76 555.5 1112.06 367.6 1112.36 533.5 1112.66 373.3 1112.97 603.8 1113.27 374.1 1113.57 505.7 1113.88 377.7 1114.18 496.2 1114.48 379.1 1114.78 486.4 1115.09 378.2 1115.39 477.2 1115.69 411.2 1116.00 477.0 1116.30 411.4 1116.60 473.8 1116.90 410.7 1117.21 475.0 1117.51 410.6 1117.81 476.5 1118.11 410.8 1118.42 481.3 1118.72 248.8 1119.02 496.7 1119.33 498.9 1119.63 362.1 1119.93 574.5 1120.23 354.0 1120.54 552.9 1120.84 509.5 1121.14 508.5 1121.45 506.6 1121.75 504.3 1122.05 356.0 1122.35 505.7 1122.66 499.4 1122.96 362.0 1123.26 501.4 1123.57 355.3 1123.87 498.6 1124.17 494.8 1124.47 492.1 1124.78 491.1 1125.08 344.4 1125.38 494.7 1125.68 326.3 1125.99 482.3 1126.29 306.0 1126.59 471.8 1126.90 299.9 1127.20 471.5 1127.50 248.8 1127.80 471.1 1128.11 314.3 1128.41 471.8 1128.71 299.6 1129.02 471.9 1129.32 317.2 1129.62 521.2 1129.92 330.2 1130.23 488.6 1130.53 313.8 1130.83 499.6 1131.14 498.0 1131.44 339.9 1131.74 499.4 1132.04 353.3 1132.35 491.8 1132.65 360.8 1132.95 491.6 1133.26 374.2 1133.56 492.9 1133.86 251.9 1134.16 488.0 1134.47 402.9 1134.77 402.6 1135.07 466.8 1135.37 400.4 1135.68 468.0 1135.98 403.0 1136.28 468.7 1136.59 401.4 1136.89 466.9 1137.19 393.4 1137.49 469.7 1137.80 379.8 1138.10 476.0 1138.40 212.2 1138.71 487.2 1139.01 350.4 1139.31 535.0 1139.61 294.3 1139.92 511.9 1140.22 302.9 1140.52 351.1 1140.83 475.0 1141.13 346.6 1141.43 457.5 1141.73 344.7 1142.04 336.5 1142.34 357.6 1142.64 324.5 1142.95 344.7 1143.25 302.9 1143.55 357.8 1143.85 548.2 1144.16 352.8 1144.46 284.7 1144.76 504.7 1145.06 558.6 1145.37 352.5 1145.67 538.4 1145.97 336.2 1146.28 546.8 1146.58 332.9 1146.88 653.0 1147.18 312.2 1147.49 547.4 1147.79 306.0 1148.09 548.3 1148.40 355.3 1148.70 557.7 1149.00 354.4 1149.30 561.0 1149.61 356.1 1149.91 561.2 1150.21 350.2 1150.52 329.4 1150.82 516.1 1151.12 505.6 1151.42 356.0 1151.73 345.8 1152.03 347.2 1152.33 506.3 1152.63 340.6 1152.94 512.9 1153.24 333.2 1153.54 501.5 1153.85 317.0 1154.15 510.7 1154.45 352.1 1154.75 510.9 1155.06 356.7 1155.36 503.2 1155.66 356.4 1155.97 500.9 1156.27 359.2 1156.57 505.4 1156.87 277.8 1157.18 500.3 1157.48 367.0 1157.78 364.1 1158.09 360.5 1158.39 362.8 1158.69 553.2 1158.99 364.7 1159.30 522.1 1159.60 362.5 1159.90 592.0 1160.21 371.0 1160.51 550.2 1160.81 360.6 1161.11 508.6 1161.42 371.8 1161.72 493.5 1162.02 376.8 1162.32 480.7 1162.63 372.2 1162.93 469.3 1163.23 373.7 1163.54 466.4 1163.84 363.5 1164.14 465.7 1164.44 361.8 1164.75 464.2 1165.05 355.9 1165.35 464.3 1165.66 311.3 1165.96 348.3 1166.26 594.5 1166.56 346.7 1166.87 487.5 1167.17 347.3 1167.47 499.8 1167.78 322.5 1168.08 508.8 1168.38 341.0 1168.68 566.5 1168.99 319.0 1169.29 506.7 1169.59 308.4 1169.89 630.0 1170.20 314.9 1170.50 486.0 1170.80 332.2 1171.11 473.5 1171.41 311.6 1171.71 464.5 1172.01 298.0 1172.32 455.0 1172.62 350.4 1172.92 452.6 1173.23 350.6 1173.53 454.9 1173.83 357.7 1174.13 453.2 1174.44 283.4 1174.74 454.1 1175.04 360.0 1175.35 460.4 1175.65 361.7 1175.95 471.9 1176.25 366.2 1176.56 480.5 1176.86 488.1 1177.16 490.5 1177.47 497.7 1177.77 496.0 1178.07 485.5 1178.37 506.6 1178.68 332.5 1178.98 493.9 1179.28 551.1 1179.58 356.7 1179.89 525.4 1180.19 362.3 1180.49 602.5 1180.80 351.5 1181.10 319.3 1181.40 353.0 1181.70 352.4 1182.01 510.2 1182.31 295.0 1182.61 529.7 1182.92 369.7 1183.22 539.7 1183.52 377.9 1183.82 556.2 1184.13 390.2 1184.43 549.1 1184.73 388.1 1185.04 507.8 1185.34 386.5 1185.64 500.7 1185.94 389.3 1186.25 501.6 1186.55 387.4 1186.85 494.2 1187.16 380.0 1187.46 497.6 1187.76 373.2 1188.06 498.5 1188.37 362.3 1188.67 493.1 1188.97 317.0 1189.27 498.0 1189.58 342.2 1189.88 499.2 1190.18 345.7 1190.49 570.0 1190.79 355.8 1191.09 306.7 1191.39 501.7 1191.70 274.0 1192.00 505.5 1192.30 295.8 1192.61 503.7 1192.91 307.9 1193.21 516.1 1193.51 333.5 1193.82 511.6 1194.12 338.0 1194.42 330.8 1194.73 509.1 1195.03 124.7 1195.33 513.7 1195.63 303.1 1195.94 528.8 1196.24 323.4 1196.54 560.9 1196.84 333.7 1197.15 592.0 1197.45 310.6 1197.75 560.0 1198.06 360.0 1198.36 548.5 1198.66 367.4 1198.96 526.6 1199.27 373.8 1199.57 511.0 1199.87 380.6 1200.18 503.9 1200.48 382.4 1200.78 500.1 1201.08 383.8 1201.39 652.5 1201.69 380.2 1201.99 491.8 1202.30 382.5 1202.60 487.5 1202.90 375.6 1203.20 486.9 1203.51 484.2 1203.81 312.2 1204.11 453.1 1204.42 351.9 1204.72 365.3 1205.02 447.6 1205.32 369.2 1205.63 448.4 1205.93 365.4 1206.23 447.3 1206.53 371.5 1206.84 543.8 1207.14 358.8 1207.44 311.2 1207.75 494.8 1208.05 225.6 1208.35 500.5 1208.65 314.2 1208.96 509.6 1209.26 327.0 1209.56 535.9 1209.87 302.3 1210.17 552.4 1210.47 332.7 1210.77 561.5 1211.08 348.2 1211.38 571.2 1211.68 352.9 1211.99 272.5 1212.29 504.8 1212.59 302.2 1212.89 354.2 1213.20 326.7 1213.50 352.9 1213.80 522.7 1214.11 352.7 1214.41 324.5 1214.71 344.7 1215.01 557.5 1215.32 362.3 1215.62 294.0 1215.92 504.2 1216.22 537.2 1216.53 502.8 1216.83 523.1 1217.13 355.1 1217.44 516.1 1217.74 335.6 1218.04 511.9 1218.34 528.4 1218.65 380.9 1218.95 550.6 1219.25 380.8 1219.56 567.5 1219.86 379.2 1220.16 504.8 1220.46 380.5 1220.77 497.8 1221.07 380.4 1221.37 486.4 1221.68 373.9 1221.98 372.8 1222.28 470.0 1222.58 300.3 1222.89 470.9 1223.19 351.4 1223.49 472.4 1223.79 357.4 1224.10 470.9 1224.40 360.4 1224.70 472.4 1225.01 330.3 1225.31 482.5 1225.61 380.3 1225.91 490.9 1226.22 377.7 1226.52 496.0 1226.82 500.4 1227.13 379.8 1227.43 547.5 1227.73 380.3 1228.03 504.2 1228.34 504.2 1228.64 316.2 1228.94 494.3 1229.25 509.0 1229.55 366.0 1229.85 528.9 1230.15 355.6 1230.46 622.5 1230.76 349.5 1231.06 535.5 1231.37 337.2 1231.67 545.7 1231.97 357.2 1232.27 498.4 1232.58 501.3 1232.88 498.1 1233.18 493.3 1233.48 499.2 1233.79 492.5 1234.09 489.2 1234.39 489.9 1234.70 486.4 1235.00 488.3 1235.30 360.5 1235.60 486.6 1235.91 320.0 1236.21 488.0 1236.51 361.7 1236.82 486.3 1237.12 354.6 1237.42 490.8 1237.72 364.1 1238.03 498.6 1238.33 353.8 1238.63 531.2 1238.94 362.2 1239.24 329.6 1239.54 504.8 1239.84 316.2 1240.15 509.9 1240.45 354.8 1240.75 359.3 1241.05 363.6 1241.36 372.4 1241.66 373.5 1241.96 379.0 1242.27 528.7 1242.57 387.4 1242.87 540.0 1243.17 386.7 1243.48 515.4 1243.78 388.2 1244.08 507.6 1244.39 387.3 1244.69 531.8 1244.99 387.0 1245.29 543.5 1245.60 378.9 1245.90 530.4 1246.20 364.6 1246.51 546.0 1246.81 291.2 1247.11 623.8 1247.41 344.7 1247.72 521.0 1248.02 354.6 1248.32 562.4 1248.63 509.3 1248.93 506.1 1249.23 356.5 1249.53 509.3 1249.84 346.3 1250.14 550.0 1250.44 319.0 1250.74 527.6 1251.05 285.6 1251.35 511.9 1251.65 508.1 1251.96 508.9 1252.26 368.2 1252.56 504.2 1252.86 381.7 1253.17 516.1 1253.47 383.1 1253.77 504.8 1254.08 384.1 1254.38 510.1 1254.68 385.6 1254.98 508.4 1255.29 258.4 1255.59 504.6 1255.89 556.5 1256.20 376.8 1256.50 494.6 1256.80 368.6 1257.10 593.8 1257.41 363.2 1257.71 457.0 1258.01 354.5 1258.32 456.4 1258.62 347.1 1258.92 455.2 1259.22 457.0 1259.53 323.1 1259.83 458.3 1260.13 333.7 1260.43 545.0 1260.74 344.7 1261.04 506.1 1261.34 344.7 1261.65 507.8 1261.95 348.6 1262.25 353.9 1262.55 359.1 1262.86 365.9 1263.16 505.0 1263.46 316.2 1263.77 504.5 1264.07 389.7 1264.37 501.3 1264.67 393.9 1264.98 506.7 1265.28 391.2 1265.58 563.8 1265.89 393.0 1266.19 392.5 1266.49 504.5 1266.79 390.9 1267.10 501.4 1267.40 380.0 1267.70 504.6 1268.00 282.5 1268.31 369.6 1268.61 523.8 1268.91 376.4 1269.22 381.2 1269.52 380.6 1269.82 501.0 1270.12 381.5 1270.43 510.8 1270.73 381.5 1271.03 503.2 1271.34 379.5 1271.64 511.5 1271.94 269.4 1272.24 507.5 1272.55 371.2 1272.85 367.9 1273.15 501.4 1273.46 362.1 1273.76 580.0 1274.06 362.9 1274.36 486.6 1274.67 363.3 1274.97 488.2 1275.27 363.5 1275.58 488.1 1275.88 367.4 1276.18 486.4 1276.48 358.7 1276.79 363.0 1277.09 361.0 1277.39 352.2 1277.69 494.7 1278.00 267.5 1278.30 500.8 1278.60 300.2 1278.91 363.6 1279.21 582.5 1279.51 360.8 1279.81 556.4 1280.12 357.3 1280.42 529.6 1280.72 365.1 1281.03 512.1 1281.33 355.3 1281.63 516.1 1281.93 345.0 1282.24 360.4 1282.54 568.8 1282.84 362.6 1283.15 546.1 1283.45 369.3 1283.75 541.5 1284.05 356.6 1284.36 522.8 1284.66 357.3 1284.96 507.1 1285.26 354.1 1285.57 513.2 1285.87 327.8 1286.17 503.1 1286.48 354.4 1286.78 350.5 1287.08 503.1 1287.38 353.0 1287.69 495.7 1287.99 347.3 1288.29 551.2 1288.60 344.7 1288.90 485.2 1289.20 350.6 1289.50 488.8 1289.81 486.0 1290.11 320.0 1290.41 486.5 1290.72 486.6 1291.02 348.3 1291.32 483.4 1291.62 364.6 1291.93 491.6 1292.23 376.1 1292.53 496.3 1292.84 280.0 1293.14 509.3 1293.44 399.0 1293.74 549.1 1294.05 410.7 1294.35 553.8 1294.65 415.5 1294.95 534.7 1295.26 416.3 1295.56 511.2 1295.86 415.5 1296.17 483.5 1296.47 416.5 1296.77 459.1 1297.07 412.8 1297.38 460.0 1297.68 399.8 1297.98 459.2 1298.29 312.2 1298.59 460.8 1298.89 378.9 1299.19 458.3 1299.50 390.7 1299.80 490.3 1300.10 392.2 1300.41 609.5 1300.71 393.0 1301.01 489.0 1301.31 393.9 1301.62 481.8 1301.92 392.7 1302.22 480.6 1302.53 387.4 1302.83 478.2 1303.13 375.9 1303.43 477.4 1303.74 366.9 1304.04 478.6 1304.34 477.7 1304.64 362.0 1304.95 480.1 1305.25 355.6 1305.55 486.7 1305.86 351.9 1306.16 491.1 1306.46 351.7 1306.76 498.0 1307.07 361.6 1307.37 498.8 1307.67 355.5 1307.98 506.3 1308.28 351.6 1308.58 538.3 1308.88 334.1 1309.19 551.1 1309.49 321.6 1309.79 567.0 1310.10 331.5 1310.40 536.8 1310.70 323.7 1311.00 505.8 1311.31 306.9 1311.61 493.6 1311.91 355.5 1312.21 469.8 1312.52 357.1 1312.82 467.1 1313.12 270.0 1313.43 467.5 1313.73 467.2 1314.03 381.3 1314.33 467.6 1314.64 382.8 1314.94 477.2 1315.24 380.7 1315.55 502.6 1315.85 380.5 1316.15 624.2 1316.45 382.2 1316.76 547.8 1317.06 343.4 1317.36 561.6 1317.67 364.4 1317.97 529.0 1318.27 357.7 1318.57 515.0 1318.88 351.6 1319.18 511.1 1319.48 347.2 1319.79 343.1 1320.09 338.8 1320.39 355.9 1320.69 549.7 1321.00 383.9 1321.30 585.0 1321.60 420.6 1321.90 548.7 1322.21 421.4 1322.51 540.4 1322.81 420.9 1323.12 523.7 1323.42 276.2 1323.72 510.3 1324.02 421.4 1324.33 514.9 1324.63 376.2 1324.93 509.9 1325.24 355.5 1325.54 510.0 1325.84 346.7 1326.14 513.7 1326.45 512.5 1326.75 507.1 1327.05 495.1 1327.36 494.7 1327.66 506.8 1327.96 511.3 1328.26 341.7 1328.57 511.5 1328.87 320.6 1329.17 360.5 1329.47 547.5 1329.78 344.7 1330.08 491.3 1330.38 352.7 1330.69 486.5 1330.99 347.7 1331.29 487.0 1331.59 321.3 1331.90 484.6 1332.20 299.2 1332.50 330.0 1332.81 274.7 1333.11 319.8 1333.41 486.9 1333.71 310.3 1334.02 491.7 1334.32 295.0 1334.62 523.8 1334.93 327.5 1335.23 308.2 1335.53 343.4 1335.83 294.2 1336.14 481.1 1336.44 302.0 1336.74 488.1 1337.05 247.5 1337.35 501.3 1337.65 360.9 1337.95 511.0 1338.26 374.5 1338.56 375.3 1338.86 496.8 1339.16 383.7 1339.47 503.2 1339.77 503.5 1340.07 383.3 1340.38 590.0 1340.68 381.1 1340.98 497.4 1341.28 380.4 1341.59 491.9 1341.89 374.3 1342.19 497.3 1342.50 491.8 1342.80 497.5 1343.10 321.6 1343.40 497.1 1343.71 495.7 1344.01 345.5 1344.31 494.7 1344.62 332.3 1344.92 498.4 1345.22 316.2 1345.52 502.2 1345.83 495.6 1346.13 358.6 1346.43 647.0 1346.74 350.9 1347.04 465.5 1347.34 357.7 1347.64 456.7 1347.95 353.3 1348.25 456.5 1348.55 352.9 1348.85 458.2 1349.16 360.0 1349.46 456.4 1349.76 365.0 1350.07 459.2 1350.37 356.7 1350.67 475.8 1350.97 361.1 1351.28 491.9 1351.58 354.1 1351.88 507.6 1352.19 309.0 1352.49 555.0 1352.79 357.6 1353.09 524.7 1353.40 353.3 1353.70 521.1 1354.00 350.6 1354.31 537.0 1354.61 311.2 1354.91 541.7 1355.21 299.7 1355.52 563.0 1355.82 308.7 1356.12 585.0 1356.42 350.8 1356.73 567.3 1357.03 359.1 1357.33 554.3 1357.64 508.0 1357.94 298.8 1358.24 502.7 1358.54 565.7 1358.85 350.4 1359.15 595.5 1359.45 344.7 1359.76 551.4 1360.06 349.3 1360.36 548.4 1360.66 508.7 1360.97 323.8 1361.27 506.8 1361.57 353.0 1361.88 512.5 1362.18 513.1 1362.48 505.0 1362.78 494.6 1363.09 477.7 1363.39 461.8 1363.69 379.6 1364.00 459.3 1364.30 381.9 1364.60 459.2 1364.90 384.4 1365.21 460.0 1365.51 332.5 1365.81 458.1 1366.11 382.7 1366.42 478.2 1366.72 370.1 1367.02 553.8 1367.33 362.8 1367.63 543.4 1367.93 352.5 1368.23 538.3 1368.54 266.0 1368.84 529.2 1369.14 374.4 1369.45 517.3 1369.75 384.9 1370.05 512.1 1370.35 399.2 1370.66 535.7 1370.96 409.6 1371.26 568.8 1371.57 416.4 1371.87 544.9 1372.17 416.5 1372.47 499.0 1372.78 416.4 1373.08 505.3 1373.38 416.2 1373.68 516.0 1373.99 415.1 1374.29 503.6 1374.59 402.6 1374.90 506.3 1375.20 389.7 1375.50 512.7 1375.80 385.4 1376.11 506.1 1376.41 395.8 1376.71 399.3 1377.02 396.2 1377.32 397.9 1377.62 507.4 1377.92 396.6 1378.23 510.3 1378.53 398.2 1378.83 533.4 1379.14 397.1 1379.44 543.9 1379.74 389.1 1380.04 570.0 1380.35 379.3 1380.65 565.0 1380.95 505.5 1381.26 321.6 1381.56 508.5 1381.86 358.3 1382.16 505.6 1382.47 352.9 1382.77 507.4 1383.07 334.7 1383.37 508.5 1383.68 331.5 1383.98 501.8 1384.28 308.1 1384.59 496.2 1384.89 333.8 1385.19 484.6 1385.49 346.9 1385.80 475.9 1386.10 354.5 1386.40 478.4 1386.71 344.7 1387.01 474.6 1387.31 370.1 1387.61 476.9 1387.92 413.6 1388.22 478.3 1388.52 415.7 1388.83 533.8 1389.13 345.0 1389.43 490.9 1389.73 500.8 1390.04 499.5 1390.34 497.8 1390.64 506.2 1390.95 506.2 1391.25 504.1 1391.55 497.9 1391.85 491.7 1392.16 490.1 1392.46 484.5 1392.76 478.2 1393.06 478.5 1393.37 343.7 1393.67 478.7 1393.97 328.4 1394.28 477.2 1394.58 304.2 1394.88 479.0 1395.18 264.4 1395.49 476.7 1395.79 303.7 1396.09 487.5 1396.40 334.6 1396.70 475.0 1397.00 375.0 1397.30 401.0 1397.61 595.0 1397.91 423.1 1398.21 190.9 1398.52 435.7 1398.82 435.5 1399.12 435.5 1399.42 435.6 1399.73 435.3 1400.03 435.4 1400.33 435.4 1400.63 435.5 1400.94 366.6 1401.24 439.8 1401.54 332.5 1401.85 453.6 1402.15 318.3 1402.45 466.4 1402.75 309.5 1403.06 480.5 1403.36 302.3 1403.66 495.2 1403.97 296.6 1404.27 509.3 1404.57 506.0 1404.87 499.2 1405.18 264.4 1405.48 349.3 1405.78 535.0 1406.09 338.9 1406.39 545.0 1406.69 333.2 1406.99 507.9 1407.30 325.2 1407.60 502.4 1407.90 313.8 1408.21 492.3 1408.51 489.2 1408.81 360.8 1409.11 480.9 1409.42 354.6 1409.72 480.4 1410.02 357.7 1410.32 478.7 1410.63 350.3 1410.93 479.3 1411.23 350.2 1411.54 483.2 1411.84 320.0 1412.14 547.5 1412.44 372.8 1412.75 493.6 1413.05 386.7 1413.35 502.1 1413.66 390.6 1413.96 501.9 1414.26 392.5 1414.56 510.3 1414.87 390.4 1415.17 518.4 1415.47 390.4 1415.78 507.2 1416.08 389.7 1416.38 552.5 1416.68 378.3 1416.99 504.9 1417.29 362.1 1417.59 500.4 1417.89 486.6 1418.20 300.3 1418.50 499.7 1418.80 368.7 1419.11 378.1 1419.41 382.5 1419.71 390.3 1420.01 397.8 1420.32 402.4 1420.62 410.9 1420.92 416.5 1421.23 505.1 1421.53 422.1 1421.83 501.3 1422.13 422.1 1422.44 552.5 1422.74 422.6 1423.04 487.1 1423.35 490.0 1423.65 422.7 1423.95 490.1 1424.25 413.4 1424.56 488.6 1424.86 354.4 1425.16 486.2 1425.47 386.4 1425.77 491.4 1426.07 371.8 1426.37 498.5 1426.68 368.3 1426.98 499.8 1427.28 363.9 1427.58 496.5 1427.89 363.3 1428.19 509.4 1428.49 261.6 1428.80 513.3 1429.10 353.9 1429.40 511.1 1429.70 305.2 1430.01 506.4 1430.31 327.7 1430.61 509.4 1430.92 331.0 1431.22 511.4 1431.52 343.2 1431.82 506.9 1432.13 352.0 1432.43 494.5 1432.73 508.5 1433.04 346.3 1433.34 619.5 1433.64 355.4 1433.94 301.7 1434.25 497.8 1434.55 278.4 1434.85 496.4 1435.16 296.3 1435.46 357.6 1435.76 311.0 1436.06 357.6 1436.37 526.2 1436.67 353.0 1436.97 337.0 1437.27 499.5 1437.58 342.0 1437.88 502.2 1438.18 352.7 1438.49 503.2 1438.79 355.8 1439.09 503.1 1439.39 364.5 1439.70 499.3 1440.00 360.2" stroke="#4c72b0" stroke-width="2.5" fill="none" stroke-linejoin="round"/></g><path d="M200 430.40H1440" stroke="#dd8452" stroke-width="2.083" fill="none"/><path d="M200 684.5H1440M200 628.5H1440M200 572.5H1440M200 516.5H1440M200 460.5H1440M200 404.5H1440M200 348.5H1440M200 292.5H1440M200 236.5H1440M200 180.5H1440M200 124.5H1440" stroke="#fff" stroke-width="1.389" fill="none"/><path d="M200.86 180H1439.14" stroke="#c44e52" stroke-width="2.083" fill="none"/><path d="M219 124V684M278 124V684" stroke="#000" stroke-width="2.083" fill="none"/><g clip-path="url(#ax)"><path d="M200.00 306.00 L219.38 181.12 L238.76 148.64 L258.14 146.12 L277.52 154.80 L296.90 181.12 L316.28 255.60 L335.66 424.72 L355.04 592.72 L374.42 657.68 L393.80 673.42 L413.18 678.51 L432.56 680.58 L451.94 681.82 L471.32 682.49 L490.70 682.82 L510.08 682.99 L529.46 683.10 L548.84 683.10 L568.22 683.10 L587.60 683.10 L606.98 683.10 L626.36 683.10 L645.74 683.10 L665.12 683.10 L684.50 683.10 L703.87 683.10 L723.25 683.10 L742.63 683.10 L762.01 683.10 L781.39 683.10 L800.77 683.10 L820.15 683.10 L839.53 683.10 L858.91 683.10 L878.29 683.10 L897.67 683.10 L917.05 683.10 L936.43 683.10 L955.81 683.10 L975.19 683.10 L994.57 683.10 L1013.95 683.10 L1033.33 683.10 L1052.71 683.10 L1072.09 683.10 L1091.47 683.10 L1110.85 683.10 L1130.23 683.10 L1149.61 683.10 L1168.99 683.10 L1188.37 683.10 L1207.75 683.10 L1227.13 683.10 L1246.51 683.10 L1265.89 683.10 L1285.27 683.10 L1304.65 683.10 L1324.03 683.10 L1343.41 683.10 L1362.79 683.10 L1382.17 683.10 L1401.55 683.10 L1420.93 683.10" stroke="#55a868" stroke-width="2.083" fill="none" stroke-linejoin="round" stroke-linecap="square"/></g><path d="M192 706H199M192 675H199M192 645H199M192 614H199M192 583H199M192 553H199M192 522H199M192 492H199M192 461H199M192 430H199M192 400H199M192 369H199M192 339H199M192 308H199M192 277H199M192 247H199M192 216H199M192 186H199M192 155H199M192 124H199M1441 684H1448M1441 628H1448M1441 572H1448M1441 516H1448M1441 460H1448M1441 404H1448M1441 348H1448M1441 292H1448M1441 236H1448M1441 180H1448M1441 124H1448" stroke="#262626" stroke-width="1.736" fill="none"/><g fill="#262626"><text x="188.28 197.81 202.85" y="736.68" font-size="16.19" fill="#292929">0.0</text><text x="219.17 228.71 233.66" y="736.97" font-size="16.19" fill="#292929">0.1</text><text x="250.16 259.69 264.53" y="737.18" font-size="16.19" fill="#292929">0.2</text><text x="281.21 290.75 295.81" y="737.26" font-size="16.19" fill="#292929">0.3</text><text x="312.35 321.89 326.92" y="736.66" font-size="16.19" fill="#292929">0.4</text><text x="343.12 352.66 357.64" y="737.19" font-size="16.19" fill="#292929">0.5</text><text x="374.40 383.94 388.98" y="736.69" font-size="16.19" fill="#292929">0.6</text><text x="405.31 414.85 419.86" y="736.89" font-size="16.19" fill="#292929">0.7</text><text x="436.23 445.77 450.81" y="737.11" font-size="16.19" fill="#292929">0.8</text><text x="467.32 476.86 481.85" y="737.10" font-size="16.19" fill="#292929">0.9</text><text x="498.74 508.36 513.40" y="737.16" font-size="16.19" fill="#292929">1.0</text><text x="529.61 539.23 544.19" y="736.99" font-size="16.19" fill="#292929">1.1</text><text x="560.62 570.24 575.08" y="737.31" font-size="16.19" fill="#292929">1.2</text><text x="591.65 601.27 606.33" y="737.32" font-size="16.19" fill="#292929">1.3</text><text x="622.80 632.42 637.46" y="737.00" font-size="16.19" fill="#292929">1.4</text><text x="653.71 663.33 668.31" y="737.19" font-size="16.19" fill="#292929">1.5</text><text x="684.86 694.48 699.52" y="737.15" font-size="16.19" fill="#292929">1.6</text><text x="715.70 725.32 730.33" y="737.19" font-size="16.19" fill="#292929">1.7</text><text x="746.75 756.37 761.41" y="737.33" font-size="16.19" fill="#292929">1.8</text><text x="777.87 787.49 792.48" y="737.31" font-size="16.19" fill="#292929">1.9</text><text x="807.74 817.48 822.52" y="737.12" font-size="16.19" fill="#292929">2.0</text><text x="838.65 848.39 853.35" y="736.72" font-size="16.19" fill="#292929">2.1</text><text x="869.59 879.33 884.17" y="737.29" font-size="16.19" fill="#292929">2.2</text><text x="900.63 910.37 915.43" y="737.29" font-size="16.19" fill="#292929">2.3</text><text x="931.66 941.40 946.44" y="737.13" font-size="16.19" fill="#292929">2.4</text><text x="962.61 972.35 977.33" y="737.19" font-size="16.19" fill="#292929">2.5</text><text x="993.86 1003.60 1008.64" y="737.19" font-size="16.19" fill="#292929">2.6</text><text x="1024.55 1034.29 1039.30" y="737.19" font-size="16.19" fill="#292929">2.7</text><text x="1055.54 1065.28 1070.32" y="737.33" font-size="16.19" fill="#292929">2.8</text><text x="1086.67 1096.41 1101.40" y="737.31" font-size="16.19" fill="#292929">2.9</text><text x="1117.93 1127.45 1132.49" y="737.18" font-size="16.19" fill="#292929">3.0</text><text x="1148.85 1158.37 1163.32" y="736.94" font-size="16.19" fill="#292929">3.1</text><text x="1179.85 1189.37 1194.21" y="737.16" font-size="16.19" fill="#292929">3.2</text><text x="1210.92 1220.44 1225.50" y="737.19" font-size="16.19" fill="#292929">3.3</text><text x="1241.86 1251.38 1256.42" y="737.18" font-size="16.19" fill="#292929">3.4</text><text x="1272.85 1282.36 1287.34" y="737.21" font-size="16.19" fill="#292929">3.5</text><text x="1304.13 1313.64 1318.68" y="737.21" font-size="16.19" fill="#292929">3.6</text><text x="1334.82 1344.34 1349.35" y="737.25" font-size="16.19" fill="#292929">3.7</text><text x="1365.90 1375.41 1380.45" y="737.23" font-size="16.19" fill="#292929">3.8</text><text x="1396.96 1406.47 1411.46" y="737.26" font-size="16.19" fill="#292929">3.9</text><text x="150.63 162.12 171.66 176.65" y="711.86" font-size="16.19" fill="#2c2c2c">−0.9</text><text x="151.51 163.00 172.53 177.57" y="681.22" font-size="16.19" fill="#2c2c2c">−0.8</text><text x="151.51 162.99 172.53 177.54" y="650.64" font-size="16.19" fill="#2c2c2c">−0.7</text><text x="150.59 162.08 171.61 176.65" y="619.98" font-size="16.19" fill="#2c2c2c">−0.6</text><text x="151.43 162.92 172.45 177.43" y="589.43" font-size="16.19" fill="#2c2c2c">−0.5</text><text x="151.56 163.04 172.58 177.62" y="558.68" font-size="16.19" fill="#2c2c2c">−0.4</text><text x="150.49 161.97 171.51 176.57" y="528.15" font-size="16.19" fill="#2c2c2c">−0.3</text><text x="151.45 162.94 172.48 177.32" y="497.52" font-size="16.19" fill="#2c2c2c">−0.2</text><text x="151.45 162.94 172.48 177.43" y="466.87" font-size="16.19" fill="#2c2c2c">−0.1</text><text x="163.35 172.89 177.93" y="435.86" font-size="16.19" fill="#2c2c2c">0.0</text><text x="163.16 172.69 177.65" y="405.57" font-size="16.19" fill="#2c2c2c">0.1</text><text x="163.25 172.78 177.62" y="375.14" font-size="16.19" fill="#2c2c2c">0.2</text><text x="163.31 172.85 177.91" y="344.65" font-size="16.19" fill="#2c2c2c">0.3</text><text x="163.28 172.82 177.86" y="314.46" font-size="16.19" fill="#2c2c2c">0.4</text><text x="163.09 172.63 177.61" y="283.37" font-size="16.19" fill="#2c2c2c">0.5</text><text x="163.38 172.92 177.96" y="253.25" font-size="16.19" fill="#2c2c2c">0.6</text><text x="163.26 172.79 177.80" y="221.85" font-size="16.19" fill="#2c2c2c">0.7</text><text x="163.27 172.81 177.85" y="192.43" font-size="16.19" fill="#2c2c2c">0.8</text><text x="163.27 172.80 177.79" y="160.86" font-size="16.19" fill="#2c2c2c">0.9</text><text x="162.82 172.44 177.48" y="130.30" font-size="16.19" fill="#2c2c2c">1.0</text><text x="1453.30 1462.84 1467.88" y="690.46" font-size="16.19" fill="#303030">0.0</text><text x="1453.25 1462.79 1467.74" y="633.77" font-size="16.19" fill="#303030">0.1</text><text x="1453.23 1462.77 1467.61" y="577.98" font-size="16.19" fill="#303030">0.2</text><text x="1453.19 1462.73 1467.79" y="522.12" font-size="16.19" fill="#303030">0.3</text><text x="1453.29 1462.83 1467.87" y="465.49" font-size="16.19" fill="#303030">0.4</text><text x="1453.21 1462.75 1467.73" y="409.97" font-size="16.19" fill="#303030">0.5</text><text x="1453.42 1462.95 1467.99" y="353.48" font-size="16.19" fill="#303030">0.6</text><text x="1453.23 1462.77 1467.78" y="297.70" font-size="16.19" fill="#303030">0.7</text><text x="1453.24 1462.78 1467.82" y="241.90" font-size="16.19" fill="#303030">0.8</text><text x="1453.29 1462.83 1467.82" y="185.91" font-size="16.19" fill="#303030">0.9</text><text x="1453.21 1462.83 1467.87" y="129.91" font-size="16.19" fill="#303030">1.0</text><text x="594.14 603.55 608.88 620.30 626.11 634.75 639.61 651.03 656.79 662.34 671.91 682.52 692.10 702.28 708.35 714.48 719.55 735.23 745.28 754.69 760.71 771.19 781.29 787.28 792.65 803.46 809.50 815.57 821.59 831.64 841.04 846.81 852.39 862.25 873.67 879.00 889.65 895.24 905.94 916.51 927.08 937.36 942.81 949.21 958.21 962.76 973.46 983.19 994.19 1000.30 1012.82 1023.22 1028.72 1040.39" y="87.17" font-size="17.66" fill="#333333">stats at each timestep for test data 1475 [signal=0.0]</text><text x="785.39 795.71 800.79 816.46 826.47 831.63 838.31 847.71" y="758.79" font-size="17.66" fill="#353535">Time (s)</text><text transform="translate(138.58,470.79) rotate(-90)" x="-0.10 16.86 27.41 32.44 38.46 48.87 59.28 69.56 79.86 85.20 94.61 101.18 106.79 117.80 122.48" y="0" font-size="17.66" fill="#2f2f2f">Whitened strain</text><text transform="translate(1495.37,492.20) rotate(-90)" x="0.06 13.08 23.86 29.87 39.84 49.81 55.94 60.40 70.81 80.97 86.75 97.65 103.51 114.00 123.66 134.79 145.25 149.88 154.51 159.55 165.83" y="0" font-size="17.66" fill="#353535">Detection probability</text><text x="260.88 274.53 289.88 307.13 322.79 335.92 342.67" y="123.26" font-size="22.96">SNR=0.0</text><text x="1006.92" y="123.31" font-size="22.96" font-style="italic">M</text><text x="1024.71" y="127.58" font-size="17.00" font-style="italic">c</text><text x="1034.93 1050.59 1063.72 1070.47" y="123.09" font-size="22.96">=0.0</text><text x="1315.77" y="123.18" font-size="22.96" font-style="italic">S</text><text x="1330.63 1346.29 1359.42 1366.17 1379.43 1392.68 1405.66 1419.19 1432.32 1445.70 1458.87 1471.93 1485.34 1498.65 1511.97 1525.15 1538.51 1551.73 1564.86 1578.24 1591.50 1604.48" y="123.72" font-size="22.96">=0.0002614521945361042</text></g><rect x="1120.5" y="670.5" width="239" height="50" rx="3" ry="3" fill="#eaeaf2" fill-opacity="0.8" stroke="#ccc" stroke-opacity="0.8" stroke-width="1.389"/><path d="M1125.23 683H1157.77" stroke="#4c72b0" stroke-width="2.083"/><path d="M1125.23 706H1157.77" stroke="#dd8452" stroke-width="2.083"/><g fill="#262626"><text x="1170.45 1182.15 1192.39 1201.19 1210.99 1215.91 1225.82 1231.84 1245.98 1251.23 1263.66 1268.28 1273.91 1283.25 1288.48 1297.96 1307.47 1311.42 1319.57" y="688.32" font-size="16.19">waveform with noise</text><text x="1170.48 1182.19 1192.42 1201.22 1211.02 1215.94 1225.85 1231.87 1246.01 1251.26 1263.69 1268.31 1273.95 1283.46 1292.94 1303.02 1308.30 1313.53 1323.02 1332.52 1336.47 1344.62" y="710.96" font-size="16.19">waveform without noise</text></g></svg></body></html>
